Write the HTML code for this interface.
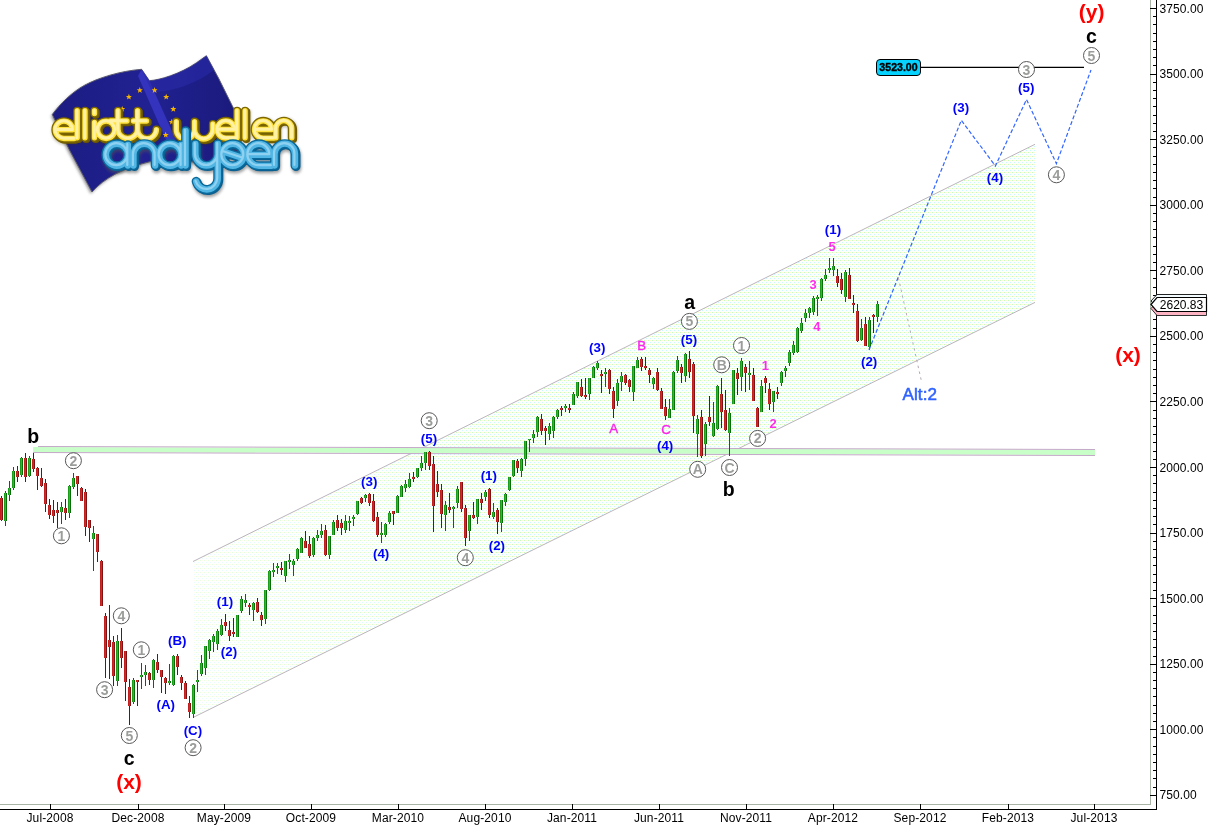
<!DOCTYPE html>
<html><head><meta charset="utf-8"><title>Chart</title>
<style>html,body{margin:0;padding:0;background:#fff;overflow:hidden}svg{display:block;will-change:transform}text{font-family:"Liberation Sans",sans-serif}.s{font-family:"Liberation Serif",serif}</style></head>
<body>
<svg width="1209" height="827" viewBox="0 0 1209 827">
<defs>
<pattern id="dz" width="4" height="4" patternUnits="userSpaceOnUse"><rect width="4" height="4" fill="#fdfffd"/><rect x="0" y="0" width="1" height="1" fill="#c0ffc0"/><rect x="2" y="2" width="1" height="1" fill="#c8f8ff"/><rect x="2" y="0" width="1" height="1" fill="#ffffd0"/></pattern>
<linearGradient id="wg" gradientUnits="userSpaceOnUse" x1="193" y1="0" x2="520" y2="0"><stop offset="0" stop-color="#fff" stop-opacity="0.6"/><stop offset="1" stop-color="#fff" stop-opacity="0"/></linearGradient>
</defs>
<rect width="1209" height="827" fill="#fff"/>
<g id="channel">
<polygon points="193,561.5 1035,144.3 1035,302.4 193,717.5" fill="url(#dz)"/>
<polygon points="193,561.5 520,399.5 520,556.3 193,717.5" fill="url(#wg)"/>
<line x1="193" y1="561.5" x2="1035" y2="144.3" stroke="#bdb4bd" stroke-width="1"/>
<line x1="193" y1="717.5" x2="1035" y2="302.4" stroke="#bdb4bd" stroke-width="1"/>
</g>
<g id="band">
<polygon points="33,447 1095,450 1095,455 33,452" fill="#c8ffc8"/>
<line x1="38" y1="446.5" x2="1095" y2="449.5" stroke="#c4a8c8" stroke-width="1"/>
<line x1="33" y1="452.5" x2="1095" y2="455.5" stroke="#c4a8c8" stroke-width="1"/>
</g>
<g id="candles" shape-rendering="crispEdges">
<rect x="1" y="496" width="1" height="25" fill="#7c0a0a"/><rect x="0" y="498" width="1" height="22" fill="#c41f1f"/><rect x="1" y="498" width="1" height="22" fill="#d22a2a"/><rect x="2" y="498" width="1" height="22" fill="#7e1212"/>
<rect x="5" y="491" width="1" height="35" fill="#056a05"/><rect x="4" y="493" width="1" height="28" fill="#1a9e1a"/><rect x="5" y="493" width="1" height="28" fill="#25c225"/><rect x="6" y="493" width="1" height="28" fill="#0a6e0a"/>
<rect x="9" y="481" width="1" height="20" fill="#056a05"/><rect x="8" y="488" width="1" height="7" fill="#1a9e1a"/><rect x="9" y="488" width="1" height="7" fill="#25c225"/><rect x="10" y="488" width="1" height="7" fill="#0a6e0a"/>
<rect x="13" y="467" width="1" height="23" fill="#056a05"/><rect x="12" y="471" width="1" height="17" fill="#1a9e1a"/><rect x="13" y="471" width="1" height="17" fill="#25c225"/><rect x="14" y="471" width="1" height="17" fill="#0a6e0a"/>
<rect x="17" y="466" width="1" height="16" fill="#7c0a0a"/><rect x="16" y="471" width="1" height="6" fill="#c41f1f"/><rect x="17" y="471" width="1" height="6" fill="#d22a2a"/><rect x="18" y="471" width="1" height="6" fill="#7e1212"/>
<rect x="21" y="457" width="1" height="20" fill="#056a05"/><rect x="20" y="458" width="1" height="17" fill="#1a9e1a"/><rect x="21" y="458" width="1" height="17" fill="#25c225"/><rect x="22" y="458" width="1" height="17" fill="#0a6e0a"/>
<rect x="25" y="453" width="1" height="29" fill="#7c0a0a"/><rect x="24" y="458" width="1" height="19" fill="#c41f1f"/><rect x="25" y="458" width="1" height="19" fill="#d22a2a"/><rect x="26" y="458" width="1" height="19" fill="#7e1212"/>
<rect x="29" y="456" width="1" height="21" fill="#056a05"/><rect x="28" y="458" width="1" height="18" fill="#1a9e1a"/><rect x="29" y="458" width="1" height="18" fill="#25c225"/><rect x="30" y="458" width="1" height="18" fill="#0a6e0a"/>
<rect x="33" y="453" width="1" height="19" fill="#7c0a0a"/><rect x="32" y="459" width="1" height="10" fill="#c41f1f"/><rect x="33" y="459" width="1" height="10" fill="#d22a2a"/><rect x="34" y="459" width="1" height="10" fill="#7e1212"/>
<rect x="37" y="467" width="1" height="23" fill="#7c0a0a"/><rect x="36" y="468" width="1" height="8" fill="#c41f1f"/><rect x="37" y="468" width="1" height="8" fill="#d22a2a"/><rect x="38" y="468" width="1" height="8" fill="#7e1212"/>
<rect x="41" y="468" width="1" height="19" fill="#7c0a0a"/><rect x="40" y="478" width="1" height="8" fill="#c41f1f"/><rect x="41" y="478" width="1" height="8" fill="#d22a2a"/><rect x="42" y="478" width="1" height="8" fill="#7e1212"/>
<rect x="45" y="479" width="1" height="33" fill="#7c0a0a"/><rect x="44" y="483" width="1" height="21" fill="#c41f1f"/><rect x="45" y="483" width="1" height="21" fill="#d22a2a"/><rect x="46" y="483" width="1" height="21" fill="#7e1212"/>
<rect x="49" y="499" width="1" height="20" fill="#7c0a0a"/><rect x="48" y="505" width="1" height="10" fill="#c41f1f"/><rect x="49" y="505" width="1" height="10" fill="#d22a2a"/><rect x="50" y="505" width="1" height="10" fill="#7e1212"/>
<rect x="53" y="500" width="1" height="23" fill="#7c0a0a"/><rect x="52" y="510" width="1" height="6" fill="#c41f1f"/><rect x="53" y="510" width="1" height="6" fill="#d22a2a"/><rect x="54" y="510" width="1" height="6" fill="#7e1212"/>
<rect x="57" y="502" width="1" height="26" fill="#7c0a0a"/><rect x="56" y="510" width="1" height="3" fill="#c41f1f"/><rect x="57" y="510" width="1" height="3" fill="#d22a2a"/><rect x="58" y="510" width="1" height="3" fill="#7e1212"/>
<rect x="61" y="502" width="1" height="22" fill="#056a05"/><rect x="60" y="507" width="1" height="5" fill="#1a9e1a"/><rect x="61" y="507" width="1" height="5" fill="#25c225"/><rect x="62" y="507" width="1" height="5" fill="#0a6e0a"/>
<rect x="65" y="499" width="1" height="21" fill="#7c0a0a"/><rect x="64" y="508" width="1" height="5" fill="#c41f1f"/><rect x="65" y="508" width="1" height="5" fill="#d22a2a"/><rect x="66" y="508" width="1" height="5" fill="#7e1212"/>
<rect x="69" y="485" width="1" height="33" fill="#056a05"/><rect x="68" y="486" width="1" height="27" fill="#1a9e1a"/><rect x="69" y="486" width="1" height="27" fill="#25c225"/><rect x="70" y="486" width="1" height="27" fill="#0a6e0a"/>
<rect x="73" y="473" width="1" height="16" fill="#056a05"/><rect x="72" y="478" width="1" height="9" fill="#1a9e1a"/><rect x="73" y="478" width="1" height="9" fill="#25c225"/><rect x="74" y="478" width="1" height="9" fill="#0a6e0a"/>
<rect x="77" y="476" width="1" height="20" fill="#7c0a0a"/><rect x="76" y="476" width="1" height="8" fill="#c41f1f"/><rect x="77" y="476" width="1" height="8" fill="#d22a2a"/><rect x="78" y="476" width="1" height="8" fill="#7e1212"/>
<rect x="81" y="487" width="1" height="14" fill="#7c0a0a"/><rect x="80" y="488" width="1" height="13" fill="#c41f1f"/><rect x="81" y="488" width="1" height="13" fill="#d22a2a"/><rect x="82" y="488" width="1" height="13" fill="#7e1212"/>
<rect x="85" y="489" width="1" height="47" fill="#7c0a0a"/><rect x="84" y="492" width="1" height="35" fill="#c41f1f"/><rect x="85" y="492" width="1" height="35" fill="#d22a2a"/><rect x="86" y="492" width="1" height="35" fill="#7e1212"/>
<rect x="89" y="520" width="1" height="22" fill="#7c0a0a"/><rect x="88" y="520" width="1" height="8" fill="#c41f1f"/><rect x="89" y="520" width="1" height="8" fill="#d22a2a"/><rect x="90" y="520" width="1" height="8" fill="#7e1212"/>
<rect x="93" y="526" width="1" height="45" fill="#056a05"/><rect x="92" y="533" width="1" height="6" fill="#1a9e1a"/><rect x="93" y="533" width="1" height="6" fill="#25c225"/><rect x="94" y="533" width="1" height="6" fill="#0a6e0a"/>
<rect x="97" y="534" width="1" height="28" fill="#7c0a0a"/><rect x="96" y="534" width="1" height="18" fill="#c41f1f"/><rect x="97" y="534" width="1" height="18" fill="#d22a2a"/><rect x="98" y="534" width="1" height="18" fill="#7e1212"/>
<rect x="101" y="560" width="1" height="46" fill="#7c0a0a"/><rect x="100" y="561" width="1" height="45" fill="#c41f1f"/><rect x="101" y="561" width="1" height="45" fill="#d22a2a"/><rect x="102" y="561" width="1" height="45" fill="#7e1212"/>
<rect x="105" y="613" width="1" height="65" fill="#7c0a0a"/><rect x="104" y="616" width="1" height="42" fill="#c41f1f"/><rect x="105" y="616" width="1" height="42" fill="#d22a2a"/><rect x="106" y="616" width="1" height="42" fill="#7e1212"/>
<rect x="109" y="605" width="1" height="74" fill="#7c0a0a"/><rect x="108" y="640" width="1" height="7" fill="#c41f1f"/><rect x="109" y="640" width="1" height="7" fill="#d22a2a"/><rect x="110" y="640" width="1" height="7" fill="#7e1212"/>
<rect x="113" y="636" width="1" height="50" fill="#7c0a0a"/><rect x="112" y="642" width="1" height="34" fill="#c41f1f"/><rect x="113" y="642" width="1" height="34" fill="#d22a2a"/><rect x="114" y="642" width="1" height="34" fill="#7e1212"/>
<rect x="117" y="635" width="1" height="51" fill="#056a05"/><rect x="116" y="641" width="1" height="40" fill="#1a9e1a"/><rect x="117" y="641" width="1" height="40" fill="#25c225"/><rect x="118" y="641" width="1" height="40" fill="#0a6e0a"/>
<rect x="121" y="628" width="1" height="40" fill="#7c0a0a"/><rect x="120" y="641" width="1" height="17" fill="#c41f1f"/><rect x="121" y="641" width="1" height="17" fill="#d22a2a"/><rect x="122" y="641" width="1" height="17" fill="#7e1212"/>
<rect x="125" y="651" width="1" height="50" fill="#7c0a0a"/><rect x="124" y="651" width="1" height="31" fill="#c41f1f"/><rect x="125" y="651" width="1" height="31" fill="#d22a2a"/><rect x="126" y="651" width="1" height="31" fill="#7e1212"/>
<rect x="129" y="679" width="1" height="46" fill="#7c0a0a"/><rect x="128" y="687" width="1" height="19" fill="#c41f1f"/><rect x="129" y="687" width="1" height="19" fill="#d22a2a"/><rect x="130" y="687" width="1" height="19" fill="#7e1212"/>
<rect x="133" y="678" width="1" height="26" fill="#056a05"/><rect x="132" y="680" width="1" height="22" fill="#1a9e1a"/><rect x="133" y="680" width="1" height="22" fill="#25c225"/><rect x="134" y="680" width="1" height="22" fill="#0a6e0a"/>
<rect x="137" y="680" width="1" height="26" fill="#7c0a0a"/><rect x="136" y="680" width="1" height="2" fill="#c41f1f"/><rect x="137" y="680" width="1" height="2" fill="#d22a2a"/><rect x="138" y="680" width="1" height="2" fill="#7e1212"/>
<rect x="141" y="663" width="1" height="26" fill="#056a05"/><rect x="140" y="675" width="1" height="2" fill="#1a9e1a"/><rect x="141" y="675" width="1" height="2" fill="#25c225"/><rect x="142" y="675" width="1" height="2" fill="#0a6e0a"/>
<rect x="145" y="665" width="1" height="21" fill="#056a05"/><rect x="144" y="672" width="1" height="3" fill="#1a9e1a"/><rect x="145" y="672" width="1" height="3" fill="#25c225"/><rect x="146" y="672" width="1" height="3" fill="#0a6e0a"/>
<rect x="149" y="672" width="1" height="13" fill="#7c0a0a"/><rect x="148" y="673" width="1" height="7" fill="#c41f1f"/><rect x="149" y="673" width="1" height="7" fill="#d22a2a"/><rect x="150" y="673" width="1" height="7" fill="#7e1212"/>
<rect x="153" y="659" width="1" height="29" fill="#056a05"/><rect x="152" y="660" width="1" height="20" fill="#1a9e1a"/><rect x="153" y="660" width="1" height="20" fill="#25c225"/><rect x="154" y="660" width="1" height="20" fill="#0a6e0a"/>
<rect x="157" y="654" width="1" height="19" fill="#7c0a0a"/><rect x="156" y="662" width="1" height="8" fill="#c41f1f"/><rect x="157" y="662" width="1" height="8" fill="#d22a2a"/><rect x="158" y="662" width="1" height="8" fill="#7e1212"/>
<rect x="161" y="670" width="1" height="23" fill="#7c0a0a"/><rect x="160" y="670" width="1" height="7" fill="#c41f1f"/><rect x="161" y="670" width="1" height="7" fill="#d22a2a"/><rect x="162" y="670" width="1" height="7" fill="#7e1212"/>
<rect x="165" y="677" width="1" height="17" fill="#7c0a0a"/><rect x="164" y="678" width="1" height="5" fill="#c41f1f"/><rect x="165" y="678" width="1" height="5" fill="#d22a2a"/><rect x="166" y="678" width="1" height="5" fill="#7e1212"/>
<rect x="169" y="664" width="1" height="21" fill="#056a05"/><rect x="168" y="681" width="1" height="2" fill="#1a9e1a"/><rect x="169" y="681" width="1" height="2" fill="#25c225"/><rect x="170" y="681" width="1" height="2" fill="#0a6e0a"/>
<rect x="173" y="655" width="1" height="31" fill="#056a05"/><rect x="172" y="656" width="1" height="29" fill="#1a9e1a"/><rect x="173" y="656" width="1" height="29" fill="#25c225"/><rect x="174" y="656" width="1" height="29" fill="#0a6e0a"/>
<rect x="177" y="654" width="1" height="21" fill="#7c0a0a"/><rect x="176" y="656" width="1" height="11" fill="#c41f1f"/><rect x="177" y="656" width="1" height="11" fill="#d22a2a"/><rect x="178" y="656" width="1" height="11" fill="#7e1212"/>
<rect x="181" y="675" width="1" height="15" fill="#7c0a0a"/><rect x="180" y="677" width="1" height="6" fill="#c41f1f"/><rect x="181" y="677" width="1" height="6" fill="#d22a2a"/><rect x="182" y="677" width="1" height="6" fill="#7e1212"/>
<rect x="185" y="681" width="1" height="18" fill="#7c0a0a"/><rect x="184" y="683" width="1" height="16" fill="#c41f1f"/><rect x="185" y="683" width="1" height="16" fill="#d22a2a"/><rect x="186" y="683" width="1" height="16" fill="#7e1212"/>
<rect x="189" y="696" width="1" height="22" fill="#7c0a0a"/><rect x="188" y="703" width="1" height="9" fill="#c41f1f"/><rect x="189" y="703" width="1" height="9" fill="#d22a2a"/><rect x="190" y="703" width="1" height="9" fill="#7e1212"/>
<rect x="193" y="684" width="1" height="34" fill="#056a05"/><rect x="192" y="685" width="1" height="29" fill="#1a9e1a"/><rect x="193" y="685" width="1" height="29" fill="#25c225"/><rect x="194" y="685" width="1" height="29" fill="#0a6e0a"/>
<rect x="197" y="670" width="1" height="22" fill="#056a05"/><rect x="196" y="680" width="1" height="2" fill="#1a9e1a"/><rect x="197" y="680" width="1" height="2" fill="#25c225"/><rect x="198" y="680" width="1" height="2" fill="#0a6e0a"/>
<rect x="201" y="655" width="1" height="21" fill="#056a05"/><rect x="200" y="663" width="1" height="11" fill="#1a9e1a"/><rect x="201" y="663" width="1" height="11" fill="#25c225"/><rect x="202" y="663" width="1" height="11" fill="#0a6e0a"/>
<rect x="205" y="646" width="1" height="29" fill="#056a05"/><rect x="204" y="646" width="1" height="22" fill="#1a9e1a"/><rect x="205" y="646" width="1" height="22" fill="#25c225"/><rect x="206" y="646" width="1" height="22" fill="#0a6e0a"/>
<rect x="209" y="639" width="1" height="20" fill="#056a05"/><rect x="208" y="640" width="1" height="11" fill="#1a9e1a"/><rect x="209" y="640" width="1" height="11" fill="#25c225"/><rect x="210" y="640" width="1" height="11" fill="#0a6e0a"/>
<rect x="213" y="634" width="1" height="18" fill="#056a05"/><rect x="212" y="636" width="1" height="6" fill="#1a9e1a"/><rect x="213" y="636" width="1" height="6" fill="#25c225"/><rect x="214" y="636" width="1" height="6" fill="#0a6e0a"/>
<rect x="217" y="629" width="1" height="21" fill="#056a05"/><rect x="216" y="631" width="1" height="13" fill="#1a9e1a"/><rect x="217" y="631" width="1" height="13" fill="#25c225"/><rect x="218" y="631" width="1" height="13" fill="#0a6e0a"/>
<rect x="221" y="619" width="1" height="17" fill="#056a05"/><rect x="220" y="625" width="1" height="10" fill="#1a9e1a"/><rect x="221" y="625" width="1" height="10" fill="#25c225"/><rect x="222" y="625" width="1" height="10" fill="#0a6e0a"/>
<rect x="225" y="614" width="1" height="17" fill="#7c0a0a"/><rect x="224" y="622" width="1" height="4" fill="#c41f1f"/><rect x="225" y="622" width="1" height="4" fill="#d22a2a"/><rect x="226" y="622" width="1" height="4" fill="#7e1212"/>
<rect x="229" y="621" width="1" height="20" fill="#7c0a0a"/><rect x="228" y="630" width="1" height="6" fill="#c41f1f"/><rect x="229" y="630" width="1" height="6" fill="#d22a2a"/><rect x="230" y="630" width="1" height="6" fill="#7e1212"/>
<rect x="233" y="618" width="1" height="19" fill="#7c0a0a"/><rect x="232" y="632" width="1" height="2" fill="#c41f1f"/><rect x="233" y="632" width="1" height="2" fill="#d22a2a"/><rect x="234" y="632" width="1" height="2" fill="#7e1212"/>
<rect x="237" y="615" width="1" height="22" fill="#056a05"/><rect x="236" y="615" width="1" height="22" fill="#1a9e1a"/><rect x="237" y="615" width="1" height="22" fill="#25c225"/><rect x="238" y="615" width="1" height="22" fill="#0a6e0a"/>
<rect x="241" y="596" width="1" height="17" fill="#056a05"/><rect x="240" y="599" width="1" height="12" fill="#1a9e1a"/><rect x="241" y="599" width="1" height="12" fill="#25c225"/><rect x="242" y="599" width="1" height="12" fill="#0a6e0a"/>
<rect x="245" y="594" width="1" height="13" fill="#056a05"/><rect x="244" y="600" width="1" height="3" fill="#1a9e1a"/><rect x="245" y="600" width="1" height="3" fill="#25c225"/><rect x="246" y="600" width="1" height="3" fill="#0a6e0a"/>
<rect x="249" y="603" width="1" height="12" fill="#7c0a0a"/><rect x="248" y="605" width="1" height="2" fill="#c41f1f"/><rect x="249" y="605" width="1" height="2" fill="#d22a2a"/><rect x="250" y="605" width="1" height="2" fill="#7e1212"/>
<rect x="253" y="602" width="1" height="19" fill="#056a05"/><rect x="252" y="603" width="1" height="7" fill="#1a9e1a"/><rect x="253" y="603" width="1" height="7" fill="#25c225"/><rect x="254" y="603" width="1" height="7" fill="#0a6e0a"/>
<rect x="257" y="598" width="1" height="15" fill="#7c0a0a"/><rect x="256" y="602" width="1" height="10" fill="#c41f1f"/><rect x="257" y="602" width="1" height="10" fill="#d22a2a"/><rect x="258" y="602" width="1" height="10" fill="#7e1212"/>
<rect x="261" y="612" width="1" height="14" fill="#7c0a0a"/><rect x="260" y="615" width="1" height="5" fill="#c41f1f"/><rect x="261" y="615" width="1" height="5" fill="#d22a2a"/><rect x="262" y="615" width="1" height="5" fill="#7e1212"/>
<rect x="265" y="590" width="1" height="34" fill="#056a05"/><rect x="264" y="590" width="1" height="29" fill="#1a9e1a"/><rect x="265" y="590" width="1" height="29" fill="#25c225"/><rect x="266" y="590" width="1" height="29" fill="#0a6e0a"/>
<rect x="269" y="570" width="1" height="21" fill="#056a05"/><rect x="268" y="571" width="1" height="19" fill="#1a9e1a"/><rect x="269" y="571" width="1" height="19" fill="#25c225"/><rect x="270" y="571" width="1" height="19" fill="#0a6e0a"/>
<rect x="273" y="563" width="1" height="14" fill="#056a05"/><rect x="272" y="570" width="1" height="2" fill="#1a9e1a"/><rect x="273" y="570" width="1" height="2" fill="#25c225"/><rect x="274" y="570" width="1" height="2" fill="#0a6e0a"/>
<rect x="277" y="563" width="1" height="11" fill="#056a05"/><rect x="276" y="566" width="1" height="2" fill="#1a9e1a"/><rect x="277" y="566" width="1" height="2" fill="#25c225"/><rect x="278" y="566" width="1" height="2" fill="#0a6e0a"/>
<rect x="281" y="562" width="1" height="13" fill="#7c0a0a"/><rect x="280" y="568" width="1" height="2" fill="#c41f1f"/><rect x="281" y="568" width="1" height="2" fill="#d22a2a"/><rect x="282" y="568" width="1" height="2" fill="#7e1212"/>
<rect x="285" y="561" width="1" height="21" fill="#056a05"/><rect x="284" y="561" width="1" height="15" fill="#1a9e1a"/><rect x="285" y="561" width="1" height="15" fill="#25c225"/><rect x="286" y="561" width="1" height="15" fill="#0a6e0a"/>
<rect x="289" y="554" width="1" height="15" fill="#056a05"/><rect x="288" y="560" width="1" height="2" fill="#1a9e1a"/><rect x="289" y="560" width="1" height="2" fill="#25c225"/><rect x="290" y="560" width="1" height="2" fill="#0a6e0a"/>
<rect x="293" y="559" width="1" height="17" fill="#056a05"/><rect x="292" y="561" width="1" height="4" fill="#1a9e1a"/><rect x="293" y="561" width="1" height="4" fill="#25c225"/><rect x="294" y="561" width="1" height="4" fill="#0a6e0a"/>
<rect x="297" y="548" width="1" height="13" fill="#056a05"/><rect x="296" y="549" width="1" height="10" fill="#1a9e1a"/><rect x="297" y="549" width="1" height="10" fill="#25c225"/><rect x="298" y="549" width="1" height="10" fill="#0a6e0a"/>
<rect x="301" y="537" width="1" height="16" fill="#056a05"/><rect x="300" y="538" width="1" height="15" fill="#1a9e1a"/><rect x="301" y="538" width="1" height="15" fill="#25c225"/><rect x="302" y="538" width="1" height="15" fill="#0a6e0a"/>
<rect x="305" y="531" width="1" height="17" fill="#7c0a0a"/><rect x="304" y="541" width="1" height="7" fill="#c41f1f"/><rect x="305" y="541" width="1" height="7" fill="#d22a2a"/><rect x="306" y="541" width="1" height="7" fill="#7e1212"/>
<rect x="309" y="536" width="1" height="22" fill="#7c0a0a"/><rect x="308" y="544" width="1" height="12" fill="#c41f1f"/><rect x="309" y="544" width="1" height="12" fill="#d22a2a"/><rect x="310" y="544" width="1" height="12" fill="#7e1212"/>
<rect x="313" y="537" width="1" height="20" fill="#056a05"/><rect x="312" y="538" width="1" height="17" fill="#1a9e1a"/><rect x="313" y="538" width="1" height="17" fill="#25c225"/><rect x="314" y="538" width="1" height="17" fill="#0a6e0a"/>
<rect x="317" y="530" width="1" height="11" fill="#056a05"/><rect x="316" y="535" width="1" height="3" fill="#1a9e1a"/><rect x="317" y="535" width="1" height="3" fill="#25c225"/><rect x="318" y="535" width="1" height="3" fill="#0a6e0a"/>
<rect x="321" y="524" width="1" height="14" fill="#056a05"/><rect x="320" y="531" width="1" height="4" fill="#1a9e1a"/><rect x="321" y="531" width="1" height="4" fill="#25c225"/><rect x="322" y="531" width="1" height="4" fill="#0a6e0a"/>
<rect x="325" y="525" width="1" height="31" fill="#7c0a0a"/><rect x="324" y="530" width="1" height="25" fill="#c41f1f"/><rect x="325" y="530" width="1" height="25" fill="#d22a2a"/><rect x="326" y="530" width="1" height="25" fill="#7e1212"/>
<rect x="329" y="536" width="1" height="23" fill="#056a05"/><rect x="328" y="536" width="1" height="19" fill="#1a9e1a"/><rect x="329" y="536" width="1" height="19" fill="#25c225"/><rect x="330" y="536" width="1" height="19" fill="#0a6e0a"/>
<rect x="333" y="520" width="1" height="15" fill="#056a05"/><rect x="332" y="522" width="1" height="13" fill="#1a9e1a"/><rect x="333" y="522" width="1" height="13" fill="#25c225"/><rect x="334" y="522" width="1" height="13" fill="#0a6e0a"/>
<rect x="337" y="515" width="1" height="16" fill="#7c0a0a"/><rect x="336" y="520" width="1" height="8" fill="#c41f1f"/><rect x="337" y="520" width="1" height="8" fill="#d22a2a"/><rect x="338" y="520" width="1" height="8" fill="#7e1212"/>
<rect x="341" y="519" width="1" height="16" fill="#7c0a0a"/><rect x="340" y="523" width="1" height="5" fill="#c41f1f"/><rect x="341" y="523" width="1" height="5" fill="#d22a2a"/><rect x="342" y="523" width="1" height="5" fill="#7e1212"/>
<rect x="345" y="515" width="1" height="18" fill="#056a05"/><rect x="344" y="521" width="1" height="9" fill="#1a9e1a"/><rect x="345" y="521" width="1" height="9" fill="#25c225"/><rect x="346" y="521" width="1" height="9" fill="#0a6e0a"/>
<rect x="349" y="516" width="1" height="15" fill="#056a05"/><rect x="348" y="521" width="1" height="2" fill="#1a9e1a"/><rect x="349" y="521" width="1" height="2" fill="#25c225"/><rect x="350" y="521" width="1" height="2" fill="#0a6e0a"/>
<rect x="353" y="515" width="1" height="11" fill="#056a05"/><rect x="352" y="517" width="1" height="2" fill="#1a9e1a"/><rect x="353" y="517" width="1" height="2" fill="#25c225"/><rect x="354" y="517" width="1" height="2" fill="#0a6e0a"/>
<rect x="357" y="501" width="1" height="14" fill="#056a05"/><rect x="356" y="501" width="1" height="13" fill="#1a9e1a"/><rect x="357" y="501" width="1" height="13" fill="#25c225"/><rect x="358" y="501" width="1" height="13" fill="#0a6e0a"/>
<rect x="361" y="497" width="1" height="7" fill="#7c0a0a"/><rect x="360" y="498" width="1" height="5" fill="#c41f1f"/><rect x="361" y="498" width="1" height="5" fill="#d22a2a"/><rect x="362" y="498" width="1" height="5" fill="#7e1212"/>
<rect x="365" y="494" width="1" height="8" fill="#056a05"/><rect x="364" y="495" width="1" height="3" fill="#1a9e1a"/><rect x="365" y="495" width="1" height="3" fill="#25c225"/><rect x="366" y="495" width="1" height="3" fill="#0a6e0a"/>
<rect x="369" y="493" width="1" height="13" fill="#7c0a0a"/><rect x="368" y="494" width="1" height="9" fill="#c41f1f"/><rect x="369" y="494" width="1" height="9" fill="#d22a2a"/><rect x="370" y="494" width="1" height="9" fill="#7e1212"/>
<rect x="373" y="494" width="1" height="28" fill="#7c0a0a"/><rect x="372" y="501" width="1" height="20" fill="#c41f1f"/><rect x="373" y="501" width="1" height="20" fill="#d22a2a"/><rect x="374" y="501" width="1" height="20" fill="#7e1212"/>
<rect x="377" y="512" width="1" height="25" fill="#7c0a0a"/><rect x="376" y="517" width="1" height="18" fill="#c41f1f"/><rect x="377" y="517" width="1" height="18" fill="#d22a2a"/><rect x="378" y="517" width="1" height="18" fill="#7e1212"/>
<rect x="381" y="522" width="1" height="21" fill="#056a05"/><rect x="380" y="533" width="1" height="2" fill="#1a9e1a"/><rect x="381" y="533" width="1" height="2" fill="#25c225"/><rect x="382" y="533" width="1" height="2" fill="#0a6e0a"/>
<rect x="385" y="523" width="1" height="14" fill="#056a05"/><rect x="384" y="524" width="1" height="11" fill="#1a9e1a"/><rect x="385" y="524" width="1" height="11" fill="#25c225"/><rect x="386" y="524" width="1" height="11" fill="#0a6e0a"/>
<rect x="389" y="511" width="1" height="13" fill="#056a05"/><rect x="388" y="513" width="1" height="9" fill="#1a9e1a"/><rect x="389" y="513" width="1" height="9" fill="#25c225"/><rect x="390" y="513" width="1" height="9" fill="#0a6e0a"/>
<rect x="393" y="511" width="1" height="14" fill="#7c0a0a"/><rect x="392" y="511" width="1" height="3" fill="#c41f1f"/><rect x="393" y="511" width="1" height="3" fill="#d22a2a"/><rect x="394" y="511" width="1" height="3" fill="#7e1212"/>
<rect x="397" y="495" width="1" height="18" fill="#056a05"/><rect x="396" y="496" width="1" height="17" fill="#1a9e1a"/><rect x="397" y="496" width="1" height="17" fill="#25c225"/><rect x="398" y="496" width="1" height="17" fill="#0a6e0a"/>
<rect x="401" y="485" width="1" height="12" fill="#056a05"/><rect x="400" y="486" width="1" height="11" fill="#1a9e1a"/><rect x="401" y="486" width="1" height="11" fill="#25c225"/><rect x="402" y="486" width="1" height="11" fill="#0a6e0a"/>
<rect x="405" y="480" width="1" height="12" fill="#056a05"/><rect x="404" y="484" width="1" height="4" fill="#1a9e1a"/><rect x="405" y="484" width="1" height="4" fill="#25c225"/><rect x="406" y="484" width="1" height="4" fill="#0a6e0a"/>
<rect x="409" y="473" width="1" height="15" fill="#056a05"/><rect x="408" y="479" width="1" height="8" fill="#1a9e1a"/><rect x="409" y="479" width="1" height="8" fill="#25c225"/><rect x="410" y="479" width="1" height="8" fill="#0a6e0a"/>
<rect x="413" y="472" width="1" height="10" fill="#7c0a0a"/><rect x="412" y="477" width="1" height="2" fill="#c41f1f"/><rect x="413" y="477" width="1" height="2" fill="#d22a2a"/><rect x="414" y="477" width="1" height="2" fill="#7e1212"/>
<rect x="417" y="468" width="1" height="10" fill="#056a05"/><rect x="416" y="468" width="1" height="9" fill="#1a9e1a"/><rect x="417" y="468" width="1" height="9" fill="#25c225"/><rect x="418" y="468" width="1" height="9" fill="#0a6e0a"/>
<rect x="421" y="456" width="1" height="15" fill="#056a05"/><rect x="420" y="463" width="1" height="5" fill="#1a9e1a"/><rect x="421" y="463" width="1" height="5" fill="#25c225"/><rect x="422" y="463" width="1" height="5" fill="#0a6e0a"/>
<rect x="425" y="452" width="1" height="18" fill="#056a05"/><rect x="424" y="452" width="1" height="11" fill="#1a9e1a"/><rect x="425" y="452" width="1" height="11" fill="#25c225"/><rect x="426" y="452" width="1" height="11" fill="#0a6e0a"/>
<rect x="429" y="451" width="1" height="19" fill="#7c0a0a"/><rect x="428" y="452" width="1" height="14" fill="#c41f1f"/><rect x="429" y="452" width="1" height="14" fill="#d22a2a"/><rect x="430" y="452" width="1" height="14" fill="#7e1212"/>
<rect x="433" y="456" width="1" height="76" fill="#7c0a0a"/><rect x="432" y="464" width="1" height="42" fill="#c41f1f"/><rect x="433" y="464" width="1" height="42" fill="#d22a2a"/><rect x="434" y="464" width="1" height="42" fill="#7e1212"/>
<rect x="437" y="471" width="1" height="26" fill="#7c0a0a"/><rect x="436" y="484" width="1" height="8" fill="#c41f1f"/><rect x="437" y="484" width="1" height="8" fill="#d22a2a"/><rect x="438" y="484" width="1" height="8" fill="#7e1212"/>
<rect x="441" y="484" width="1" height="44" fill="#7c0a0a"/><rect x="440" y="490" width="1" height="24" fill="#c41f1f"/><rect x="441" y="490" width="1" height="24" fill="#d22a2a"/><rect x="442" y="490" width="1" height="24" fill="#7e1212"/>
<rect x="445" y="501" width="1" height="30" fill="#056a05"/><rect x="444" y="505" width="1" height="10" fill="#1a9e1a"/><rect x="445" y="505" width="1" height="10" fill="#25c225"/><rect x="446" y="505" width="1" height="10" fill="#0a6e0a"/>
<rect x="449" y="493" width="1" height="20" fill="#7c0a0a"/><rect x="448" y="507" width="1" height="3" fill="#c41f1f"/><rect x="449" y="507" width="1" height="3" fill="#d22a2a"/><rect x="450" y="507" width="1" height="3" fill="#7e1212"/>
<rect x="453" y="506" width="1" height="22" fill="#056a05"/><rect x="452" y="507" width="1" height="2" fill="#1a9e1a"/><rect x="453" y="507" width="1" height="2" fill="#25c225"/><rect x="454" y="507" width="1" height="2" fill="#0a6e0a"/>
<rect x="457" y="486" width="1" height="22" fill="#056a05"/><rect x="456" y="489" width="1" height="14" fill="#1a9e1a"/><rect x="457" y="489" width="1" height="14" fill="#25c225"/><rect x="458" y="489" width="1" height="14" fill="#0a6e0a"/>
<rect x="461" y="482" width="1" height="30" fill="#7c0a0a"/><rect x="460" y="482" width="1" height="27" fill="#c41f1f"/><rect x="461" y="482" width="1" height="27" fill="#d22a2a"/><rect x="462" y="482" width="1" height="27" fill="#7e1212"/>
<rect x="465" y="505" width="1" height="41" fill="#7c0a0a"/><rect x="464" y="508" width="1" height="30" fill="#c41f1f"/><rect x="465" y="508" width="1" height="30" fill="#d22a2a"/><rect x="466" y="508" width="1" height="30" fill="#7e1212"/>
<rect x="469" y="515" width="1" height="26" fill="#056a05"/><rect x="468" y="515" width="1" height="16" fill="#1a9e1a"/><rect x="469" y="515" width="1" height="16" fill="#25c225"/><rect x="470" y="515" width="1" height="16" fill="#0a6e0a"/>
<rect x="473" y="502" width="1" height="17" fill="#7c0a0a"/><rect x="472" y="515" width="1" height="3" fill="#c41f1f"/><rect x="473" y="515" width="1" height="3" fill="#d22a2a"/><rect x="474" y="515" width="1" height="3" fill="#7e1212"/>
<rect x="477" y="499" width="1" height="25" fill="#056a05"/><rect x="476" y="499" width="1" height="18" fill="#1a9e1a"/><rect x="477" y="499" width="1" height="18" fill="#25c225"/><rect x="478" y="499" width="1" height="18" fill="#0a6e0a"/>
<rect x="481" y="493" width="1" height="17" fill="#7c0a0a"/><rect x="480" y="499" width="1" height="4" fill="#c41f1f"/><rect x="481" y="499" width="1" height="4" fill="#d22a2a"/><rect x="482" y="499" width="1" height="4" fill="#7e1212"/>
<rect x="485" y="490" width="1" height="11" fill="#056a05"/><rect x="484" y="492" width="1" height="5" fill="#1a9e1a"/><rect x="485" y="492" width="1" height="5" fill="#25c225"/><rect x="486" y="492" width="1" height="5" fill="#0a6e0a"/>
<rect x="489" y="488" width="1" height="30" fill="#7c0a0a"/><rect x="488" y="489" width="1" height="26" fill="#c41f1f"/><rect x="489" y="489" width="1" height="26" fill="#d22a2a"/><rect x="490" y="489" width="1" height="26" fill="#7e1212"/>
<rect x="493" y="503" width="1" height="16" fill="#056a05"/><rect x="492" y="512" width="1" height="5" fill="#1a9e1a"/><rect x="493" y="512" width="1" height="5" fill="#25c225"/><rect x="494" y="512" width="1" height="5" fill="#0a6e0a"/>
<rect x="497" y="508" width="1" height="26" fill="#7c0a0a"/><rect x="496" y="510" width="1" height="12" fill="#c41f1f"/><rect x="497" y="510" width="1" height="12" fill="#d22a2a"/><rect x="498" y="510" width="1" height="12" fill="#7e1212"/>
<rect x="501" y="500" width="1" height="32" fill="#056a05"/><rect x="500" y="500" width="1" height="23" fill="#1a9e1a"/><rect x="501" y="500" width="1" height="23" fill="#25c225"/><rect x="502" y="500" width="1" height="23" fill="#0a6e0a"/>
<rect x="505" y="493" width="1" height="13" fill="#056a05"/><rect x="504" y="494" width="1" height="8" fill="#1a9e1a"/><rect x="505" y="494" width="1" height="8" fill="#25c225"/><rect x="506" y="494" width="1" height="8" fill="#0a6e0a"/>
<rect x="509" y="477" width="1" height="14" fill="#056a05"/><rect x="508" y="477" width="1" height="13" fill="#1a9e1a"/><rect x="509" y="477" width="1" height="13" fill="#25c225"/><rect x="510" y="477" width="1" height="13" fill="#0a6e0a"/>
<rect x="513" y="460" width="1" height="17" fill="#056a05"/><rect x="512" y="460" width="1" height="16" fill="#1a9e1a"/><rect x="513" y="460" width="1" height="16" fill="#25c225"/><rect x="514" y="460" width="1" height="16" fill="#0a6e0a"/>
<rect x="517" y="459" width="1" height="14" fill="#7c0a0a"/><rect x="516" y="461" width="1" height="7" fill="#c41f1f"/><rect x="517" y="461" width="1" height="7" fill="#d22a2a"/><rect x="518" y="461" width="1" height="7" fill="#7e1212"/>
<rect x="521" y="458" width="1" height="19" fill="#056a05"/><rect x="520" y="459" width="1" height="12" fill="#1a9e1a"/><rect x="521" y="459" width="1" height="12" fill="#25c225"/><rect x="522" y="459" width="1" height="12" fill="#0a6e0a"/>
<rect x="525" y="441" width="1" height="25" fill="#056a05"/><rect x="524" y="441" width="1" height="18" fill="#1a9e1a"/><rect x="525" y="441" width="1" height="18" fill="#25c225"/><rect x="526" y="441" width="1" height="18" fill="#0a6e0a"/>
<rect x="529" y="439" width="1" height="13" fill="#056a05"/><rect x="528" y="439" width="1" height="1" fill="#1a9e1a"/><rect x="529" y="439" width="1" height="1" fill="#25c225"/><rect x="530" y="439" width="1" height="1" fill="#0a6e0a"/>
<rect x="533" y="430" width="1" height="13" fill="#056a05"/><rect x="532" y="434" width="1" height="4" fill="#1a9e1a"/><rect x="533" y="434" width="1" height="4" fill="#25c225"/><rect x="534" y="434" width="1" height="4" fill="#0a6e0a"/>
<rect x="537" y="416" width="1" height="21" fill="#056a05"/><rect x="536" y="417" width="1" height="15" fill="#1a9e1a"/><rect x="537" y="417" width="1" height="15" fill="#25c225"/><rect x="538" y="417" width="1" height="15" fill="#0a6e0a"/>
<rect x="541" y="414" width="1" height="21" fill="#7c0a0a"/><rect x="540" y="419" width="1" height="12" fill="#c41f1f"/><rect x="541" y="419" width="1" height="12" fill="#d22a2a"/><rect x="542" y="419" width="1" height="12" fill="#7e1212"/>
<rect x="545" y="426" width="1" height="19" fill="#7c0a0a"/><rect x="544" y="428" width="1" height="3" fill="#c41f1f"/><rect x="545" y="428" width="1" height="3" fill="#d22a2a"/><rect x="546" y="428" width="1" height="3" fill="#7e1212"/>
<rect x="549" y="423" width="1" height="17" fill="#056a05"/><rect x="548" y="426" width="1" height="8" fill="#1a9e1a"/><rect x="549" y="426" width="1" height="8" fill="#25c225"/><rect x="550" y="426" width="1" height="8" fill="#0a6e0a"/>
<rect x="553" y="416" width="1" height="22" fill="#056a05"/><rect x="552" y="417" width="1" height="14" fill="#1a9e1a"/><rect x="553" y="417" width="1" height="14" fill="#25c225"/><rect x="554" y="417" width="1" height="14" fill="#0a6e0a"/>
<rect x="557" y="409" width="1" height="10" fill="#056a05"/><rect x="556" y="410" width="1" height="7" fill="#1a9e1a"/><rect x="557" y="410" width="1" height="7" fill="#25c225"/><rect x="558" y="410" width="1" height="7" fill="#0a6e0a"/>
<rect x="561" y="406" width="1" height="10" fill="#7c0a0a"/><rect x="560" y="408" width="1" height="2" fill="#c41f1f"/><rect x="561" y="408" width="1" height="2" fill="#d22a2a"/><rect x="562" y="408" width="1" height="2" fill="#7e1212"/>
<rect x="565" y="404" width="1" height="8" fill="#056a05"/><rect x="564" y="406" width="1" height="2" fill="#1a9e1a"/><rect x="565" y="406" width="1" height="2" fill="#25c225"/><rect x="566" y="406" width="1" height="2" fill="#0a6e0a"/>
<rect x="569" y="404" width="1" height="9" fill="#7c0a0a"/><rect x="568" y="408" width="1" height="2" fill="#c41f1f"/><rect x="569" y="408" width="1" height="2" fill="#d22a2a"/><rect x="570" y="408" width="1" height="2" fill="#7e1212"/>
<rect x="573" y="392" width="1" height="13" fill="#056a05"/><rect x="572" y="394" width="1" height="11" fill="#1a9e1a"/><rect x="573" y="394" width="1" height="11" fill="#25c225"/><rect x="574" y="394" width="1" height="11" fill="#0a6e0a"/>
<rect x="577" y="382" width="1" height="16" fill="#056a05"/><rect x="576" y="382" width="1" height="14" fill="#1a9e1a"/><rect x="577" y="382" width="1" height="14" fill="#25c225"/><rect x="578" y="382" width="1" height="14" fill="#0a6e0a"/>
<rect x="581" y="379" width="1" height="18" fill="#7c0a0a"/><rect x="580" y="387" width="1" height="9" fill="#c41f1f"/><rect x="581" y="387" width="1" height="9" fill="#d22a2a"/><rect x="582" y="387" width="1" height="9" fill="#7e1212"/>
<rect x="585" y="378" width="1" height="21" fill="#7c0a0a"/><rect x="584" y="395" width="1" height="2" fill="#c41f1f"/><rect x="585" y="395" width="1" height="2" fill="#d22a2a"/><rect x="586" y="395" width="1" height="2" fill="#7e1212"/>
<rect x="589" y="378" width="1" height="22" fill="#056a05"/><rect x="588" y="378" width="1" height="16" fill="#1a9e1a"/><rect x="589" y="378" width="1" height="16" fill="#25c225"/><rect x="590" y="378" width="1" height="16" fill="#0a6e0a"/>
<rect x="593" y="366" width="1" height="12" fill="#056a05"/><rect x="592" y="367" width="1" height="11" fill="#1a9e1a"/><rect x="593" y="367" width="1" height="11" fill="#25c225"/><rect x="594" y="367" width="1" height="11" fill="#0a6e0a"/>
<rect x="597" y="361" width="1" height="9" fill="#056a05"/><rect x="596" y="363" width="1" height="5" fill="#1a9e1a"/><rect x="597" y="363" width="1" height="5" fill="#25c225"/><rect x="598" y="363" width="1" height="5" fill="#0a6e0a"/>
<rect x="601" y="370" width="1" height="23" fill="#7c0a0a"/><rect x="600" y="374" width="1" height="2" fill="#c41f1f"/><rect x="601" y="374" width="1" height="2" fill="#d22a2a"/><rect x="602" y="374" width="1" height="2" fill="#7e1212"/>
<rect x="605" y="368" width="1" height="19" fill="#056a05"/><rect x="604" y="372" width="1" height="2" fill="#1a9e1a"/><rect x="605" y="372" width="1" height="2" fill="#25c225"/><rect x="606" y="372" width="1" height="2" fill="#0a6e0a"/>
<rect x="609" y="369" width="1" height="25" fill="#7c0a0a"/><rect x="608" y="370" width="1" height="19" fill="#c41f1f"/><rect x="609" y="370" width="1" height="19" fill="#d22a2a"/><rect x="610" y="370" width="1" height="19" fill="#7e1212"/>
<rect x="613" y="387" width="1" height="31" fill="#7c0a0a"/><rect x="612" y="391" width="1" height="18" fill="#c41f1f"/><rect x="613" y="391" width="1" height="18" fill="#d22a2a"/><rect x="614" y="391" width="1" height="18" fill="#7e1212"/>
<rect x="617" y="379" width="1" height="27" fill="#056a05"/><rect x="616" y="383" width="1" height="18" fill="#1a9e1a"/><rect x="617" y="383" width="1" height="18" fill="#25c225"/><rect x="618" y="383" width="1" height="18" fill="#0a6e0a"/>
<rect x="621" y="372" width="1" height="19" fill="#056a05"/><rect x="620" y="376" width="1" height="6" fill="#1a9e1a"/><rect x="621" y="376" width="1" height="6" fill="#25c225"/><rect x="622" y="376" width="1" height="6" fill="#0a6e0a"/>
<rect x="625" y="374" width="1" height="11" fill="#7c0a0a"/><rect x="624" y="375" width="1" height="8" fill="#c41f1f"/><rect x="625" y="375" width="1" height="8" fill="#d22a2a"/><rect x="626" y="375" width="1" height="8" fill="#7e1212"/>
<rect x="629" y="379" width="1" height="13" fill="#7c0a0a"/><rect x="628" y="380" width="1" height="7" fill="#c41f1f"/><rect x="629" y="380" width="1" height="7" fill="#d22a2a"/><rect x="630" y="380" width="1" height="7" fill="#7e1212"/>
<rect x="633" y="366" width="1" height="35" fill="#056a05"/><rect x="632" y="366" width="1" height="26" fill="#1a9e1a"/><rect x="633" y="366" width="1" height="26" fill="#25c225"/><rect x="634" y="366" width="1" height="26" fill="#0a6e0a"/>
<rect x="637" y="357" width="1" height="11" fill="#056a05"/><rect x="636" y="360" width="1" height="8" fill="#1a9e1a"/><rect x="637" y="360" width="1" height="8" fill="#25c225"/><rect x="638" y="360" width="1" height="8" fill="#0a6e0a"/>
<rect x="641" y="357" width="1" height="14" fill="#7c0a0a"/><rect x="640" y="359" width="1" height="8" fill="#c41f1f"/><rect x="641" y="359" width="1" height="8" fill="#d22a2a"/><rect x="642" y="359" width="1" height="8" fill="#7e1212"/>
<rect x="645" y="357" width="1" height="13" fill="#7c0a0a"/><rect x="644" y="366" width="1" height="2" fill="#c41f1f"/><rect x="645" y="366" width="1" height="2" fill="#d22a2a"/><rect x="646" y="366" width="1" height="2" fill="#7e1212"/>
<rect x="649" y="368" width="1" height="15" fill="#7c0a0a"/><rect x="648" y="370" width="1" height="5" fill="#c41f1f"/><rect x="649" y="370" width="1" height="5" fill="#d22a2a"/><rect x="650" y="370" width="1" height="5" fill="#7e1212"/>
<rect x="653" y="377" width="1" height="12" fill="#056a05"/><rect x="652" y="378" width="1" height="6" fill="#1a9e1a"/><rect x="653" y="378" width="1" height="6" fill="#25c225"/><rect x="654" y="378" width="1" height="6" fill="#0a6e0a"/>
<rect x="657" y="368" width="1" height="23" fill="#7c0a0a"/><rect x="656" y="372" width="1" height="18" fill="#c41f1f"/><rect x="657" y="372" width="1" height="18" fill="#d22a2a"/><rect x="658" y="372" width="1" height="18" fill="#7e1212"/>
<rect x="661" y="388" width="1" height="21" fill="#7c0a0a"/><rect x="660" y="391" width="1" height="18" fill="#c41f1f"/><rect x="661" y="391" width="1" height="18" fill="#d22a2a"/><rect x="662" y="391" width="1" height="18" fill="#7e1212"/>
<rect x="665" y="399" width="1" height="21" fill="#7c0a0a"/><rect x="664" y="407" width="1" height="9" fill="#c41f1f"/><rect x="665" y="407" width="1" height="9" fill="#d22a2a"/><rect x="666" y="407" width="1" height="9" fill="#7e1212"/>
<rect x="669" y="399" width="1" height="19" fill="#056a05"/><rect x="668" y="409" width="1" height="9" fill="#1a9e1a"/><rect x="669" y="409" width="1" height="9" fill="#25c225"/><rect x="670" y="409" width="1" height="9" fill="#0a6e0a"/>
<rect x="673" y="371" width="1" height="39" fill="#056a05"/><rect x="672" y="372" width="1" height="38" fill="#1a9e1a"/><rect x="673" y="372" width="1" height="38" fill="#25c225"/><rect x="674" y="372" width="1" height="38" fill="#0a6e0a"/>
<rect x="677" y="356" width="1" height="17" fill="#056a05"/><rect x="676" y="360" width="1" height="11" fill="#1a9e1a"/><rect x="677" y="360" width="1" height="11" fill="#25c225"/><rect x="678" y="360" width="1" height="11" fill="#0a6e0a"/>
<rect x="681" y="364" width="1" height="19" fill="#7c0a0a"/><rect x="680" y="367" width="1" height="6" fill="#c41f1f"/><rect x="681" y="367" width="1" height="6" fill="#d22a2a"/><rect x="682" y="367" width="1" height="6" fill="#7e1212"/>
<rect x="685" y="353" width="1" height="29" fill="#056a05"/><rect x="684" y="354" width="1" height="22" fill="#1a9e1a"/><rect x="685" y="354" width="1" height="22" fill="#25c225"/><rect x="686" y="354" width="1" height="22" fill="#0a6e0a"/>
<rect x="689" y="351" width="1" height="27" fill="#7c0a0a"/><rect x="688" y="359" width="1" height="13" fill="#c41f1f"/><rect x="689" y="359" width="1" height="13" fill="#d22a2a"/><rect x="690" y="359" width="1" height="13" fill="#7e1212"/>
<rect x="693" y="362" width="1" height="71" fill="#7c0a0a"/><rect x="692" y="364" width="1" height="52" fill="#c41f1f"/><rect x="693" y="364" width="1" height="52" fill="#d22a2a"/><rect x="694" y="364" width="1" height="52" fill="#7e1212"/>
<rect x="697" y="415" width="1" height="42" fill="#056a05"/><rect x="696" y="419" width="1" height="15" fill="#1a9e1a"/><rect x="697" y="419" width="1" height="15" fill="#25c225"/><rect x="698" y="419" width="1" height="15" fill="#0a6e0a"/>
<rect x="701" y="410" width="1" height="48" fill="#7c0a0a"/><rect x="700" y="417" width="1" height="39" fill="#c41f1f"/><rect x="701" y="417" width="1" height="39" fill="#d22a2a"/><rect x="702" y="417" width="1" height="39" fill="#7e1212"/>
<rect x="705" y="422" width="1" height="34" fill="#056a05"/><rect x="704" y="424" width="1" height="20" fill="#1a9e1a"/><rect x="705" y="424" width="1" height="20" fill="#25c225"/><rect x="706" y="424" width="1" height="20" fill="#0a6e0a"/>
<rect x="709" y="396" width="1" height="30" fill="#7c0a0a"/><rect x="708" y="417" width="1" height="5" fill="#c41f1f"/><rect x="709" y="417" width="1" height="5" fill="#d22a2a"/><rect x="710" y="417" width="1" height="5" fill="#7e1212"/>
<rect x="713" y="402" width="1" height="35" fill="#056a05"/><rect x="712" y="423" width="1" height="13" fill="#1a9e1a"/><rect x="713" y="423" width="1" height="13" fill="#25c225"/><rect x="714" y="423" width="1" height="13" fill="#0a6e0a"/>
<rect x="717" y="385" width="1" height="45" fill="#056a05"/><rect x="716" y="386" width="1" height="43" fill="#1a9e1a"/><rect x="717" y="386" width="1" height="43" fill="#25c225"/><rect x="718" y="386" width="1" height="43" fill="#0a6e0a"/>
<rect x="721" y="378" width="1" height="50" fill="#7c0a0a"/><rect x="720" y="394" width="1" height="18" fill="#c41f1f"/><rect x="721" y="394" width="1" height="18" fill="#d22a2a"/><rect x="722" y="394" width="1" height="18" fill="#7e1212"/>
<rect x="725" y="390" width="1" height="41" fill="#7c0a0a"/><rect x="724" y="410" width="1" height="20" fill="#c41f1f"/><rect x="725" y="410" width="1" height="20" fill="#d22a2a"/><rect x="726" y="410" width="1" height="20" fill="#7e1212"/>
<rect x="729" y="408" width="1" height="48" fill="#056a05"/><rect x="728" y="413" width="1" height="20" fill="#1a9e1a"/><rect x="729" y="413" width="1" height="20" fill="#25c225"/><rect x="730" y="413" width="1" height="20" fill="#0a6e0a"/>
<rect x="733" y="370" width="1" height="34" fill="#056a05"/><rect x="732" y="370" width="1" height="34" fill="#1a9e1a"/><rect x="733" y="370" width="1" height="34" fill="#25c225"/><rect x="734" y="370" width="1" height="34" fill="#0a6e0a"/>
<rect x="737" y="368" width="1" height="27" fill="#7c0a0a"/><rect x="736" y="373" width="1" height="6" fill="#c41f1f"/><rect x="737" y="373" width="1" height="6" fill="#d22a2a"/><rect x="738" y="373" width="1" height="6" fill="#7e1212"/>
<rect x="741" y="358" width="1" height="33" fill="#056a05"/><rect x="740" y="361" width="1" height="16" fill="#1a9e1a"/><rect x="741" y="361" width="1" height="16" fill="#25c225"/><rect x="742" y="361" width="1" height="16" fill="#0a6e0a"/>
<rect x="745" y="364" width="1" height="28" fill="#7c0a0a"/><rect x="744" y="367" width="1" height="6" fill="#c41f1f"/><rect x="745" y="367" width="1" height="6" fill="#d22a2a"/><rect x="746" y="367" width="1" height="6" fill="#7e1212"/>
<rect x="749" y="361" width="1" height="29" fill="#056a05"/><rect x="748" y="373" width="1" height="2" fill="#1a9e1a"/><rect x="749" y="373" width="1" height="2" fill="#25c225"/><rect x="750" y="373" width="1" height="2" fill="#0a6e0a"/>
<rect x="753" y="368" width="1" height="33" fill="#7c0a0a"/><rect x="752" y="375" width="1" height="26" fill="#c41f1f"/><rect x="753" y="375" width="1" height="26" fill="#d22a2a"/><rect x="754" y="375" width="1" height="26" fill="#7e1212"/>
<rect x="757" y="407" width="1" height="20" fill="#7c0a0a"/><rect x="756" y="408" width="1" height="19" fill="#c41f1f"/><rect x="757" y="408" width="1" height="19" fill="#d22a2a"/><rect x="758" y="408" width="1" height="19" fill="#7e1212"/>
<rect x="761" y="380" width="1" height="32" fill="#056a05"/><rect x="760" y="386" width="1" height="26" fill="#1a9e1a"/><rect x="761" y="386" width="1" height="26" fill="#25c225"/><rect x="762" y="386" width="1" height="26" fill="#0a6e0a"/>
<rect x="765" y="376" width="1" height="17" fill="#7c0a0a"/><rect x="764" y="378" width="1" height="5" fill="#c41f1f"/><rect x="765" y="378" width="1" height="5" fill="#d22a2a"/><rect x="766" y="378" width="1" height="5" fill="#7e1212"/>
<rect x="769" y="383" width="1" height="27" fill="#7c0a0a"/><rect x="768" y="389" width="1" height="15" fill="#c41f1f"/><rect x="769" y="389" width="1" height="15" fill="#d22a2a"/><rect x="770" y="389" width="1" height="15" fill="#7e1212"/>
<rect x="773" y="391" width="1" height="21" fill="#056a05"/><rect x="772" y="391" width="1" height="11" fill="#1a9e1a"/><rect x="773" y="391" width="1" height="11" fill="#25c225"/><rect x="774" y="391" width="1" height="11" fill="#0a6e0a"/>
<rect x="777" y="387" width="1" height="12" fill="#7c0a0a"/><rect x="776" y="392" width="1" height="2" fill="#c41f1f"/><rect x="777" y="392" width="1" height="2" fill="#d22a2a"/><rect x="778" y="392" width="1" height="2" fill="#7e1212"/>
<rect x="781" y="371" width="1" height="15" fill="#056a05"/><rect x="780" y="372" width="1" height="11" fill="#1a9e1a"/><rect x="781" y="372" width="1" height="11" fill="#25c225"/><rect x="782" y="372" width="1" height="11" fill="#0a6e0a"/>
<rect x="785" y="366" width="1" height="11" fill="#056a05"/><rect x="784" y="368" width="1" height="3" fill="#1a9e1a"/><rect x="785" y="368" width="1" height="3" fill="#25c225"/><rect x="786" y="368" width="1" height="3" fill="#0a6e0a"/>
<rect x="789" y="350" width="1" height="16" fill="#056a05"/><rect x="788" y="352" width="1" height="11" fill="#1a9e1a"/><rect x="789" y="352" width="1" height="11" fill="#25c225"/><rect x="790" y="352" width="1" height="11" fill="#0a6e0a"/>
<rect x="793" y="341" width="1" height="14" fill="#056a05"/><rect x="792" y="345" width="1" height="8" fill="#1a9e1a"/><rect x="793" y="345" width="1" height="8" fill="#25c225"/><rect x="794" y="345" width="1" height="8" fill="#0a6e0a"/>
<rect x="797" y="327" width="1" height="26" fill="#056a05"/><rect x="796" y="328" width="1" height="24" fill="#1a9e1a"/><rect x="797" y="328" width="1" height="24" fill="#25c225"/><rect x="798" y="328" width="1" height="24" fill="#0a6e0a"/>
<rect x="801" y="318" width="1" height="15" fill="#056a05"/><rect x="800" y="323" width="1" height="8" fill="#1a9e1a"/><rect x="801" y="323" width="1" height="8" fill="#25c225"/><rect x="802" y="323" width="1" height="8" fill="#0a6e0a"/>
<rect x="805" y="309" width="1" height="13" fill="#056a05"/><rect x="804" y="313" width="1" height="5" fill="#1a9e1a"/><rect x="805" y="313" width="1" height="5" fill="#25c225"/><rect x="806" y="313" width="1" height="5" fill="#0a6e0a"/>
<rect x="809" y="307" width="1" height="11" fill="#056a05"/><rect x="808" y="308" width="1" height="5" fill="#1a9e1a"/><rect x="809" y="308" width="1" height="5" fill="#25c225"/><rect x="810" y="308" width="1" height="5" fill="#0a6e0a"/>
<rect x="813" y="296" width="1" height="19" fill="#056a05"/><rect x="812" y="298" width="1" height="14" fill="#1a9e1a"/><rect x="813" y="298" width="1" height="14" fill="#25c225"/><rect x="814" y="298" width="1" height="14" fill="#0a6e0a"/>
<rect x="817" y="295" width="1" height="21" fill="#056a05"/><rect x="816" y="297" width="1" height="2" fill="#1a9e1a"/><rect x="817" y="297" width="1" height="2" fill="#25c225"/><rect x="818" y="297" width="1" height="2" fill="#0a6e0a"/>
<rect x="821" y="278" width="1" height="23" fill="#056a05"/><rect x="820" y="279" width="1" height="19" fill="#1a9e1a"/><rect x="821" y="279" width="1" height="19" fill="#25c225"/><rect x="822" y="279" width="1" height="19" fill="#0a6e0a"/>
<rect x="825" y="269" width="1" height="12" fill="#056a05"/><rect x="824" y="275" width="1" height="4" fill="#1a9e1a"/><rect x="825" y="275" width="1" height="4" fill="#25c225"/><rect x="826" y="275" width="1" height="4" fill="#0a6e0a"/>
<rect x="829" y="258" width="1" height="15" fill="#056a05"/><rect x="828" y="268" width="1" height="2" fill="#1a9e1a"/><rect x="829" y="268" width="1" height="2" fill="#25c225"/><rect x="830" y="268" width="1" height="2" fill="#0a6e0a"/>
<rect x="833" y="258" width="1" height="18" fill="#056a05"/><rect x="832" y="266" width="1" height="4" fill="#1a9e1a"/><rect x="833" y="266" width="1" height="4" fill="#25c225"/><rect x="834" y="266" width="1" height="4" fill="#0a6e0a"/>
<rect x="837" y="269" width="1" height="18" fill="#7c0a0a"/><rect x="836" y="276" width="1" height="7" fill="#c41f1f"/><rect x="837" y="276" width="1" height="7" fill="#d22a2a"/><rect x="838" y="276" width="1" height="7" fill="#7e1212"/>
<rect x="841" y="273" width="1" height="21" fill="#7c0a0a"/><rect x="840" y="279" width="1" height="11" fill="#c41f1f"/><rect x="841" y="279" width="1" height="11" fill="#d22a2a"/><rect x="842" y="279" width="1" height="11" fill="#7e1212"/>
<rect x="845" y="270" width="1" height="32" fill="#056a05"/><rect x="844" y="272" width="1" height="25" fill="#1a9e1a"/><rect x="845" y="272" width="1" height="25" fill="#25c225"/><rect x="846" y="272" width="1" height="25" fill="#0a6e0a"/>
<rect x="849" y="268" width="1" height="31" fill="#7c0a0a"/><rect x="848" y="275" width="1" height="24" fill="#c41f1f"/><rect x="849" y="275" width="1" height="24" fill="#d22a2a"/><rect x="850" y="275" width="1" height="24" fill="#7e1212"/>
<rect x="853" y="295" width="1" height="18" fill="#7c0a0a"/><rect x="852" y="303" width="1" height="2" fill="#c41f1f"/><rect x="853" y="303" width="1" height="2" fill="#d22a2a"/><rect x="854" y="303" width="1" height="2" fill="#7e1212"/>
<rect x="857" y="304" width="1" height="38" fill="#7c0a0a"/><rect x="856" y="311" width="1" height="30" fill="#c41f1f"/><rect x="857" y="311" width="1" height="30" fill="#d22a2a"/><rect x="858" y="311" width="1" height="30" fill="#7e1212"/>
<rect x="861" y="319" width="1" height="22" fill="#056a05"/><rect x="860" y="328" width="1" height="12" fill="#1a9e1a"/><rect x="861" y="328" width="1" height="12" fill="#25c225"/><rect x="862" y="328" width="1" height="12" fill="#0a6e0a"/>
<rect x="865" y="317" width="1" height="29" fill="#7c0a0a"/><rect x="864" y="324" width="1" height="22" fill="#c41f1f"/><rect x="865" y="324" width="1" height="22" fill="#d22a2a"/><rect x="866" y="324" width="1" height="22" fill="#7e1212"/>
<rect x="869" y="317" width="1" height="33" fill="#056a05"/><rect x="868" y="320" width="1" height="27" fill="#1a9e1a"/><rect x="869" y="320" width="1" height="27" fill="#25c225"/><rect x="870" y="320" width="1" height="27" fill="#0a6e0a"/>
<rect x="873" y="314" width="1" height="19" fill="#7c0a0a"/><rect x="872" y="315" width="1" height="2" fill="#c41f1f"/><rect x="873" y="315" width="1" height="2" fill="#d22a2a"/><rect x="874" y="315" width="1" height="2" fill="#7e1212"/>
<rect x="877" y="301" width="1" height="21" fill="#056a05"/><rect x="876" y="304" width="1" height="13" fill="#1a9e1a"/><rect x="877" y="304" width="1" height="13" fill="#25c225"/><rect x="878" y="304" width="1" height="13" fill="#0a6e0a"/>
</g>
<g id="proj" fill="none">
<polyline points="869,350 961.3,120.3 995.4,166 1026.5,99.5 1056.4,163.6 1091,70" stroke="#3366ff" stroke-width="1.2" stroke-dasharray="4,2.2"/>
<polyline points="898.4,277.8 921.3,380.5" stroke="#b4aab4" stroke-width="1" stroke-dasharray="2.5,3.5"/>
</g>
<g id="target">
<line x1="921" y1="67.3" x2="1084" y2="67.3" stroke="#000" stroke-width="1.3"/>
<rect x="876.5" y="59.5" width="44" height="16" rx="3.5" ry="3.5" fill="#06d2ff" stroke="#000" stroke-width="1"/>
<text x="898.5" y="71.2" font-size="10.6" font-weight="bold" text-anchor="middle" fill="#000" stroke="#000" stroke-width="0.35">3523.00</text>
</g>
<g id="axes" shape-rendering="crispEdges">
<rect x="0" y="804" width="1151" height="1" fill="#a9b3a6"/>
<rect x="1150" y="0" width="1" height="805" fill="#a9b3a6"/>
<rect x="0" y="809" width="1157" height="1" fill="#000"/>
<rect x="1156" y="0" width="1" height="810" fill="#000"/>
<rect x="50" y="804" width="1" height="5" fill="#000"/><rect x="138" y="804" width="1" height="5" fill="#000"/><rect x="224" y="804" width="1" height="5" fill="#000"/><rect x="311" y="804" width="1" height="5" fill="#000"/><rect x="398" y="804" width="1" height="5" fill="#000"/><rect x="485" y="804" width="1" height="5" fill="#000"/><rect x="572" y="804" width="1" height="5" fill="#000"/><rect x="659" y="804" width="1" height="5" fill="#000"/><rect x="746" y="804" width="1" height="5" fill="#000"/><rect x="833" y="804" width="1" height="5" fill="#000"/><rect x="920" y="804" width="1" height="5" fill="#000"/><rect x="1008" y="804" width="1" height="5" fill="#000"/><rect x="1094" y="804" width="1" height="5" fill="#000"/>
<rect x="1150" y="8" width="6" height="1" fill="#000"/><rect x="1153" y="16" width="3" height="1" fill="#000"/><rect x="1153" y="24" width="3" height="1" fill="#000"/><rect x="1153" y="33" width="3" height="1" fill="#000"/><rect x="1153" y="41" width="3" height="1" fill="#000"/><rect x="1153" y="49" width="3" height="1" fill="#000"/><rect x="1153" y="57" width="3" height="1" fill="#000"/><rect x="1153" y="65" width="3" height="1" fill="#000"/><rect x="1150" y="74" width="6" height="1" fill="#000"/><rect x="1153" y="82" width="3" height="1" fill="#000"/><rect x="1153" y="90" width="3" height="1" fill="#000"/><rect x="1153" y="98" width="3" height="1" fill="#000"/><rect x="1153" y="106" width="3" height="1" fill="#000"/><rect x="1153" y="115" width="3" height="1" fill="#000"/><rect x="1153" y="123" width="3" height="1" fill="#000"/><rect x="1153" y="131" width="3" height="1" fill="#000"/><rect x="1150" y="139" width="6" height="1" fill="#000"/><rect x="1153" y="147" width="3" height="1" fill="#000"/><rect x="1153" y="156" width="3" height="1" fill="#000"/><rect x="1153" y="164" width="3" height="1" fill="#000"/><rect x="1153" y="172" width="3" height="1" fill="#000"/><rect x="1153" y="180" width="3" height="1" fill="#000"/><rect x="1153" y="188" width="3" height="1" fill="#000"/><rect x="1153" y="197" width="3" height="1" fill="#000"/><rect x="1150" y="205" width="6" height="1" fill="#000"/><rect x="1153" y="213" width="3" height="1" fill="#000"/><rect x="1153" y="221" width="3" height="1" fill="#000"/><rect x="1153" y="229" width="3" height="1" fill="#000"/><rect x="1153" y="237" width="3" height="1" fill="#000"/><rect x="1153" y="246" width="3" height="1" fill="#000"/><rect x="1153" y="254" width="3" height="1" fill="#000"/><rect x="1153" y="262" width="3" height="1" fill="#000"/><rect x="1150" y="270" width="6" height="1" fill="#000"/><rect x="1153" y="278" width="3" height="1" fill="#000"/><rect x="1153" y="287" width="3" height="1" fill="#000"/><rect x="1153" y="295" width="3" height="1" fill="#000"/><rect x="1153" y="303" width="3" height="1" fill="#000"/><rect x="1153" y="311" width="3" height="1" fill="#000"/><rect x="1153" y="319" width="3" height="1" fill="#000"/><rect x="1153" y="328" width="3" height="1" fill="#000"/><rect x="1150" y="336" width="6" height="1" fill="#000"/><rect x="1153" y="344" width="3" height="1" fill="#000"/><rect x="1153" y="352" width="3" height="1" fill="#000"/><rect x="1153" y="360" width="3" height="1" fill="#000"/><rect x="1153" y="369" width="3" height="1" fill="#000"/><rect x="1153" y="377" width="3" height="1" fill="#000"/><rect x="1153" y="385" width="3" height="1" fill="#000"/><rect x="1153" y="393" width="3" height="1" fill="#000"/><rect x="1150" y="401" width="6" height="1" fill="#000"/><rect x="1153" y="410" width="3" height="1" fill="#000"/><rect x="1153" y="418" width="3" height="1" fill="#000"/><rect x="1153" y="426" width="3" height="1" fill="#000"/><rect x="1153" y="434" width="3" height="1" fill="#000"/><rect x="1153" y="442" width="3" height="1" fill="#000"/><rect x="1153" y="451" width="3" height="1" fill="#000"/><rect x="1153" y="459" width="3" height="1" fill="#000"/><rect x="1150" y="467" width="6" height="1" fill="#000"/><rect x="1153" y="475" width="3" height="1" fill="#000"/><rect x="1153" y="483" width="3" height="1" fill="#000"/><rect x="1153" y="492" width="3" height="1" fill="#000"/><rect x="1153" y="500" width="3" height="1" fill="#000"/><rect x="1153" y="508" width="3" height="1" fill="#000"/><rect x="1153" y="516" width="3" height="1" fill="#000"/><rect x="1153" y="524" width="3" height="1" fill="#000"/><rect x="1150" y="533" width="6" height="1" fill="#000"/><rect x="1153" y="541" width="3" height="1" fill="#000"/><rect x="1153" y="549" width="3" height="1" fill="#000"/><rect x="1153" y="557" width="3" height="1" fill="#000"/><rect x="1153" y="565" width="3" height="1" fill="#000"/><rect x="1153" y="574" width="3" height="1" fill="#000"/><rect x="1153" y="582" width="3" height="1" fill="#000"/><rect x="1153" y="590" width="3" height="1" fill="#000"/><rect x="1150" y="598" width="6" height="1" fill="#000"/><rect x="1153" y="606" width="3" height="1" fill="#000"/><rect x="1153" y="615" width="3" height="1" fill="#000"/><rect x="1153" y="623" width="3" height="1" fill="#000"/><rect x="1153" y="631" width="3" height="1" fill="#000"/><rect x="1153" y="639" width="3" height="1" fill="#000"/><rect x="1153" y="647" width="3" height="1" fill="#000"/><rect x="1153" y="656" width="3" height="1" fill="#000"/><rect x="1150" y="664" width="6" height="1" fill="#000"/><rect x="1153" y="672" width="3" height="1" fill="#000"/><rect x="1153" y="680" width="3" height="1" fill="#000"/><rect x="1153" y="688" width="3" height="1" fill="#000"/><rect x="1153" y="696" width="3" height="1" fill="#000"/><rect x="1153" y="705" width="3" height="1" fill="#000"/><rect x="1153" y="713" width="3" height="1" fill="#000"/><rect x="1153" y="721" width="3" height="1" fill="#000"/><rect x="1150" y="729" width="6" height="1" fill="#000"/><rect x="1153" y="737" width="3" height="1" fill="#000"/><rect x="1153" y="746" width="3" height="1" fill="#000"/><rect x="1153" y="754" width="3" height="1" fill="#000"/><rect x="1153" y="762" width="3" height="1" fill="#000"/><rect x="1153" y="770" width="3" height="1" fill="#000"/><rect x="1153" y="778" width="3" height="1" fill="#000"/><rect x="1153" y="787" width="3" height="1" fill="#000"/><rect x="1150" y="795" width="6" height="1" fill="#000"/>
</g>
<g id="ylabels" font-size="12" fill="#000" letter-spacing="0.08">
<text x="1159.5" y="12.6">3750.00</text><text x="1159.5" y="78.2">3500.00</text><text x="1159.5" y="143.7">3250.00</text><text x="1159.5" y="209.3">3000.00</text><text x="1159.5" y="274.9">2750.00</text><text x="1159.5" y="340.4">2500.00</text><text x="1159.5" y="406.0">2250.00</text><text x="1159.5" y="471.6">2000.00</text><text x="1159.5" y="537.2">1750.00</text><text x="1159.5" y="602.7">1500.00</text><text x="1159.5" y="668.3">1250.00</text><text x="1159.5" y="733.9">1000.00</text><text x="1159.5" y="799.4">750.00</text>
</g>
<g id="xlabels" font-size="12" fill="#000" text-anchor="middle" letter-spacing="0.12">
<text x="50" y="822">Jul-2008</text><text x="138" y="822">Dec-2008</text><text x="224" y="822">May-2009</text><text x="311" y="822">Oct-2009</text><text x="398" y="822">Mar-2010</text><text x="485" y="822">Aug-2010</text><text x="572" y="822">Jan-2011</text><text x="659" y="822">Jun-2011</text><text x="746" y="822">Nov-2011</text><text x="833" y="822">Apr-2012</text><text x="920" y="822">Sep-2012</text><text x="1008" y="822">Feb-2013</text><text x="1094" y="822">Jul-2013</text>
</g>
<g id="ptag">
<polygon points="1151,301 1157,294.5 1206.5,294.5 1206.5,308 1157,308" fill="#f4fbff" stroke="#222" stroke-width="1"/>
<polygon points="1151,308.5 1157,302 1206.5,302 1206.5,315.5 1157,315.5" fill="#ffb4c4" stroke="#333" stroke-width="1"/>
<polygon points="1151,304.5 1157,297.5 1206.5,297.5 1206.5,311.5 1157,311.5" fill="#fff" stroke="#000" stroke-width="1.2"/>
<text x="1159.8" y="309" font-size="12" fill="#000">2620.83</text>
</g>
<g id="circles">
<g><circle cx="73.4" cy="460.7" r="8" fill="#fff" stroke="#585858" stroke-width="1"/><text x="73.4" y="465.7" font-size="14" font-weight="bold" text-anchor="middle" fill="#9a9d9a">2</text></g>
<g><circle cx="61.4" cy="535.8" r="8" fill="#fff" stroke="#585858" stroke-width="1"/><text x="61.4" y="540.8" font-size="14" font-weight="bold" text-anchor="middle" fill="#9a9d9a">1</text></g>
<g><circle cx="121.3" cy="615.8" r="8" fill="#fff" stroke="#585858" stroke-width="1"/><text x="121.3" y="620.8" font-size="14" font-weight="bold" text-anchor="middle" fill="#9a9d9a">4</text></g>
<g><circle cx="141.3" cy="649.8" r="8" fill="#fff" stroke="#585858" stroke-width="1"/><text x="141.3" y="654.8" font-size="14" font-weight="bold" text-anchor="middle" fill="#9a9d9a">1</text></g>
<g><circle cx="104.6" cy="689.7" r="8" fill="#fff" stroke="#585858" stroke-width="1"/><text x="104.6" y="694.7" font-size="14" font-weight="bold" text-anchor="middle" fill="#9a9d9a">3</text></g>
<g><circle cx="129.3" cy="735.5" r="8" fill="#fff" stroke="#585858" stroke-width="1"/><text x="129.3" y="740.5" font-size="14" font-weight="bold" text-anchor="middle" fill="#9a9d9a">5</text></g>
<g><circle cx="193.1" cy="747.7" r="8" fill="#fff" stroke="#585858" stroke-width="1"/><text x="193.1" y="752.7" font-size="14" font-weight="bold" text-anchor="middle" fill="#9a9d9a">2</text></g>
<g><circle cx="429.2" cy="420.7" r="8" fill="#fff" stroke="#585858" stroke-width="1"/><text x="429.2" y="425.7" font-size="14" font-weight="bold" text-anchor="middle" fill="#9a9d9a">3</text></g>
<g><circle cx="465.3" cy="557.7" r="8" fill="#fff" stroke="#585858" stroke-width="1"/><text x="465.3" y="562.7" font-size="14" font-weight="bold" text-anchor="middle" fill="#9a9d9a">4</text></g>
<g><circle cx="689.4" cy="321.4" r="8" fill="#fff" stroke="#585858" stroke-width="1"/><text x="689.4" y="326.4" font-size="14" font-weight="bold" text-anchor="middle" fill="#9a9d9a">5</text></g>
<g><circle cx="741.5" cy="345.5" r="8" fill="#fff" stroke="#585858" stroke-width="1"/><text x="741.5" y="350.5" font-size="14" font-weight="bold" text-anchor="middle" fill="#9a9d9a">1</text></g>
<g><circle cx="721.7" cy="364.8" r="8" fill="#fff" stroke="#585858" stroke-width="1"/><text x="721.7" y="369.8" font-size="14" font-weight="bold" text-anchor="middle" fill="#9a9d9a">B</text></g>
<g><circle cx="697.7" cy="469.3" r="8" fill="#fff" stroke="#585858" stroke-width="1"/><text x="697.7" y="474.3" font-size="14" font-weight="bold" text-anchor="middle" fill="#9a9d9a">A</text></g>
<g><circle cx="729.5" cy="467.5" r="8" fill="#fff" stroke="#585858" stroke-width="1"/><text x="729.5" y="472.5" font-size="14" font-weight="bold" text-anchor="middle" fill="#9a9d9a">C</text></g>
<g><circle cx="757.6" cy="438.4" r="8" fill="#fff" stroke="#585858" stroke-width="1"/><text x="757.6" y="443.4" font-size="14" font-weight="bold" text-anchor="middle" fill="#9a9d9a">2</text></g>
<g><circle cx="1026.5" cy="69.5" r="8" fill="#fff" stroke="#585858" stroke-width="1"/><text x="1026.5" y="74.5" font-size="14" font-weight="bold" text-anchor="middle" fill="#9a9d9a">3</text></g>
<g><circle cx="1091.5" cy="55.5" r="8" fill="#fff" stroke="#585858" stroke-width="1"/><text x="1091.5" y="60.5" font-size="14" font-weight="bold" text-anchor="middle" fill="#9a9d9a">5</text></g>
<g><circle cx="1056.4" cy="174.8" r="8" fill="#fff" stroke="#585858" stroke-width="1"/><text x="1056.4" y="179.8" font-size="14" font-weight="bold" text-anchor="middle" fill="#9a9d9a">4</text></g>
</g>
<g id="blue" font-size="13.33" font-weight="bold" fill="#0000ff" text-anchor="middle">
<text x="177.2" y="645.2">(B)</text><text x="165.7" y="709.0">(A)</text><text x="192.9" y="734.8">(C)</text><text x="225" y="606.1">(1)</text><text x="229" y="656.3">(2)</text><text x="429" y="442.5">(5)</text><text x="369.2" y="485.5">(3)</text><text x="381.1" y="558.2">(4)</text><text x="488.8" y="479.5">(1)</text><text x="496.9" y="549.5">(2)</text><text x="597.2" y="352.4">(3)</text><text x="689" y="343.6">(5)</text><text x="665.1" y="450.1">(4)</text><text x="833" y="234.3">(1)</text><text x="869.1" y="366.1">(2)</text><text x="961" y="111.7">(3)</text><text x="995" y="182.3">(4)</text><text x="1026.2" y="91.8">(5)</text>
</g>
<g id="mag" font-size="13.33" fill="#ff20ee" stroke="#ff20ee" stroke-width="0.35" text-anchor="middle">
<text x="641.7" y="349.6">B</text><text x="613.7" y="432.9">A</text><text x="666" y="434.2">C</text>
</g>
<g id="magd" font-size="13" font-weight="bold" fill="#ff2cea" text-anchor="middle">
<text x="765.3" y="369.5">1</text><text x="773.2" y="427.6">2</text><text x="813.2" y="289.0">3</text><text x="816.8" y="331.4">4</text><text x="832" y="250.5">5</text>
</g>
<g id="black" font-size="19.5" font-weight="bold" fill="#000" text-anchor="middle">
<text x="33.1" y="443.2">b</text><text x="129.3" y="764.8">c</text><text x="689.8" y="309">a</text><text x="728.8" y="495.7">b</text><text x="1091.5" y="43">c</text>
</g>
<g id="red" font-size="21" font-weight="bold" fill="#ff0000" text-anchor="middle">
<text x="1091.6" y="18.5">(y)</text><text x="129" y="789.3">(x)</text><text x="1128" y="361.5">(x)</text>
</g>
<text x="902.5" y="400" font-size="17" letter-spacing="0.1" fill="#2f62ff" stroke="#2f62ff" stroke-width="0.55">Alt:2</text>
<g id="logo">
<defs><filter id="sh" x="-10%" y="-10%" width="120%" height="130%"><feGaussianBlur stdDeviation="1.6"/></filter>
<linearGradient id="fg" x1="0" y1="0" x2="1" y2="0"><stop offset="0" stop-color="#1c1c82"/><stop offset="0.5" stop-color="#212192"/><stop offset="1" stop-color="#1a1a7c"/></linearGradient></defs>
<path d="M52.3,114.5 C60,104 72,92 84.7,85.2 C98,78 120,71 141.6,69.3 L149.4,80.7 C160,80 180,74 196.3,62.9 L206.4,55.7 L218.7,78.5 L232,105.3 L240,121 L240,150 L226,162 L150.2,161.6 C140,164 125,169 115,174.2 C106,179 98,185 92,192 L69.2,149.4 Z" fill="#6a6a6a" opacity="0.75" transform="translate(-1.2,1.8)" filter="url(#sh)"/>
<path d="M52.3,114.5 C60,104 72,92 84.7,85.2 C98,78 120,71 141.6,69.3 L149.4,80.7 C160,80 180,74 196.3,62.9 L206.4,55.7 L218.7,78.5 L232,105.3 L240,121 L240,150 L226,162 L150.2,161.6 C140,164 125,169 115,174.2 C106,179 98,185 92,192 L69.2,149.4 Z" fill="url(#fg)" stroke="#5a5a70" stroke-width="1"/>
<path d="M141.6,69.3 L149.4,80.7 L176,140 L166,140 L138,76 Z" fill="#3a3acc" opacity="0.75"/>
<path d="M141.6,69.5 L149.4,80.7 C160,80 180,74 196.3,62.9 L206.4,55.7 L214,70 C195,85 170,92 152,92 Z" fill="#2a2aa8" opacity="0.6"/>
<polygon points="128.9,93.8 129.7,95.9 131.9,96.0 130.2,97.4 130.8,99.6 128.9,98.3 127.0,99.6 127.6,97.4 125.9,96.0 128.1,95.9" fill="#f7b500"/><polygon points="139.8,87.1 140.6,89.2 142.8,89.3 141.1,90.7 141.7,92.9 139.8,91.6 137.9,92.9 138.5,90.7 136.8,89.3 139.0,89.2" fill="#f7b500"/><polygon points="154.6,87.1 155.4,89.2 157.6,89.3 155.9,90.7 156.5,92.9 154.6,91.6 152.7,92.9 153.3,90.7 151.6,89.3 153.8,89.2" fill="#f7b500"/><polygon points="166.2,93.8 167.0,95.9 169.2,96.0 167.5,97.4 168.1,99.6 166.2,98.3 164.3,99.6 164.9,97.4 163.2,96.0 165.4,95.9" fill="#f7b500"/><polygon points="173.3,105.9 174.1,108.0 176.3,108.1 174.6,109.5 175.2,111.7 173.3,110.4 171.4,111.7 172.0,109.5 170.3,108.1 172.5,108.0" fill="#f7b500"/><polygon points="171.8,118.8 172.6,120.9 174.8,121.0 173.1,122.4 173.7,124.6 171.8,123.3 169.9,124.6 170.5,122.4 168.8,121.0 171.0,120.9" fill="#f7b500"/><polygon points="165.7,131.8 166.5,133.9 168.7,134.0 167.0,135.4 167.6,137.6 165.7,136.3 163.8,137.6 164.4,135.4 162.7,134.0 164.9,133.9" fill="#f7b500"/><polygon points="122.2,105.9 123.0,108.0 125.2,108.1 123.5,109.5 124.1,111.7 122.2,110.4 120.3,111.7 120.9,109.5 119.2,108.1 121.4,108.0" fill="#f7b500"/>
<path d="M105.9,154.8 A11.0,11.0 0 1 0 127.9,154.8 A11.0,11.0 0 1 0 105.9,154.8 Z M127.9,144.8 V165.6 M133.5,165.6 V154.6 A10.85,10.85 0 0 1 155.2,154.6 V165.6 M159.2,154.8 A11.0,11.0 0 1 0 181.2,154.8 A11.0,11.0 0 1 0 159.2,154.8 Z M181.2,144.8 V165.6 M185.6,130.8 V165.6 M195.4,143.8 V154.3 A11.2,11.2 0 0 0 217.8,154.3 M217.8,143.8 V178.5 A11,11 0 0 1 196.17,181.35 M221.9,154.8 A11.0,11.0 0 1 0 243.9,154.8 A11.0,11.0 0 1 0 221.9,154.8 Z M222.5,151.3 L243.3,158.3 M247.89999999999998,154.8 H269.9 A11.0,11.0 0 1 0 258.9,165.8 H271.4 M274.6,165.6 V153.9 A10.2,10.2 0 0 1 295,153.9 V165.6" fill="none" stroke="#555" stroke-width="9.5" stroke-linecap="round" stroke-linejoin="round" opacity="0.55" transform="translate(1.5,3)" filter="url(#sh)"/>
<path d="M55.35,129.8 H72.65 A8.65,8.65 0 1 0 64,138.45000000000002 H74.15 M77.2,110.8 V137.8 M85,110.8 V137.8 M94.5,110.8 V113.6 M94.5,122.4 V137.8 M97.55,129.8 A8.65,8.65 0 1 0 114.85000000000001,129.8 A8.65,8.65 0 1 0 97.55,129.8 Z M118,110.8 V129.2 A9.8,9.3 0 0 0 137.6,129.2 M110.5,121 H127 M137.6,110.8 V129.2 A9.4,9.3 0 0 0 156.4,129.6 M133.5,121 H146.5 M176.3,121.6 V129.8 A9.15,9.15 0 0 0 194.6,129.8 V121.6 M194.6,129.8 A9.15,9.15 0 0 0 212.9,129.8 V124 M217.25,129.5 H234.55 A8.65,8.65 0 1 0 225.9,138.15 H236.05 M237.1,110.8 V137.8 M245.1,110.8 V137.8 M254.54999999999998,129.5 H271.84999999999997 A8.65,8.65 0 1 0 263.2,138.15 H273.34999999999997 M275.9,137.8 V128.6 A7.95,7.95 0 0 1 291.8,128.6 V137.8" fill="none" stroke="#3a3000" stroke-width="9" stroke-linecap="round" stroke-linejoin="round" opacity="0.35" transform="translate(1,1.5)" filter="url(#sh)"/>
<path d="M55.35,129.8 H72.65 A8.65,8.65 0 1 0 64,138.45000000000002 H74.15 M77.2,110.8 V137.8 M85,110.8 V137.8 M94.5,110.8 V113.6 M94.5,122.4 V137.8 M97.55,129.8 A8.65,8.65 0 1 0 114.85000000000001,129.8 A8.65,8.65 0 1 0 97.55,129.8 Z M118,110.8 V129.2 A9.8,9.3 0 0 0 137.6,129.2 M110.5,121 H127 M137.6,110.8 V129.2 A9.4,9.3 0 0 0 156.4,129.6 M133.5,121 H146.5 M176.3,121.6 V129.8 A9.15,9.15 0 0 0 194.6,129.8 V121.6 M194.6,129.8 A9.15,9.15 0 0 0 212.9,129.8 V124 M217.25,129.5 H234.55 A8.65,8.65 0 1 0 225.9,138.15 H236.05 M237.1,110.8 V137.8 M245.1,110.8 V137.8 M254.54999999999998,129.5 H271.84999999999997 A8.65,8.65 0 1 0 263.2,138.15 H273.34999999999997 M275.9,137.8 V128.6 A7.95,7.95 0 0 1 291.8,128.6 V137.8" fill="none" stroke="#6e5a00" stroke-width="8" stroke-linecap="round" stroke-linejoin="round" transform="translate(1.3,1.2)"/>
<path d="M55.35,129.8 H72.65 A8.65,8.65 0 1 0 64,138.45000000000002 H74.15 M77.2,110.8 V137.8 M85,110.8 V137.8 M94.5,110.8 V113.6 M94.5,122.4 V137.8 M97.55,129.8 A8.65,8.65 0 1 0 114.85000000000001,129.8 A8.65,8.65 0 1 0 97.55,129.8 Z M118,110.8 V129.2 A9.8,9.3 0 0 0 137.6,129.2 M110.5,121 H127 M137.6,110.8 V129.2 A9.4,9.3 0 0 0 156.4,129.6 M133.5,121 H146.5 M176.3,121.6 V129.8 A9.15,9.15 0 0 0 194.6,129.8 V121.6 M194.6,129.8 A9.15,9.15 0 0 0 212.9,129.8 V124 M217.25,129.5 H234.55 A8.65,8.65 0 1 0 225.9,138.15 H236.05 M237.1,110.8 V137.8 M245.1,110.8 V137.8 M254.54999999999998,129.5 H271.84999999999997 A8.65,8.65 0 1 0 263.2,138.15 H273.34999999999997 M275.9,137.8 V128.6 A7.95,7.95 0 0 1 291.8,128.6 V137.8" fill="none" stroke="#7d6700" stroke-width="8" stroke-linecap="round" stroke-linejoin="round"/>
<path d="M55.35,129.8 H72.65 A8.65,8.65 0 1 0 64,138.45000000000002 H74.15 M77.2,110.8 V137.8 M85,110.8 V137.8 M94.5,110.8 V113.6 M94.5,122.4 V137.8 M97.55,129.8 A8.65,8.65 0 1 0 114.85000000000001,129.8 A8.65,8.65 0 1 0 97.55,129.8 Z M118,110.8 V129.2 A9.8,9.3 0 0 0 137.6,129.2 M110.5,121 H127 M137.6,110.8 V129.2 A9.4,9.3 0 0 0 156.4,129.6 M133.5,121 H146.5 M176.3,121.6 V129.8 A9.15,9.15 0 0 0 194.6,129.8 V121.6 M194.6,129.8 A9.15,9.15 0 0 0 212.9,129.8 V124 M217.25,129.5 H234.55 A8.65,8.65 0 1 0 225.9,138.15 H236.05 M237.1,110.8 V137.8 M245.1,110.8 V137.8 M254.54999999999998,129.5 H271.84999999999997 A8.65,8.65 0 1 0 263.2,138.15 H273.34999999999997 M275.9,137.8 V128.6 A7.95,7.95 0 0 1 291.8,128.6 V137.8" fill="none" stroke="#ffe23c" stroke-width="5.4" stroke-linecap="round" stroke-linejoin="round"/>
<path d="M55.35,129.8 H72.65 A8.65,8.65 0 1 0 64,138.45000000000002 H74.15 M77.2,110.8 V137.8 M85,110.8 V137.8 M94.5,110.8 V113.6 M94.5,122.4 V137.8 M97.55,129.8 A8.65,8.65 0 1 0 114.85000000000001,129.8 A8.65,8.65 0 1 0 97.55,129.8 Z M118,110.8 V129.2 A9.8,9.3 0 0 0 137.6,129.2 M110.5,121 H127 M137.6,110.8 V129.2 A9.4,9.3 0 0 0 156.4,129.6 M133.5,121 H146.5 M176.3,121.6 V129.8 A9.15,9.15 0 0 0 194.6,129.8 V121.6 M194.6,129.8 A9.15,9.15 0 0 0 212.9,129.8 V124 M217.25,129.5 H234.55 A8.65,8.65 0 1 0 225.9,138.15 H236.05 M237.1,110.8 V137.8 M245.1,110.8 V137.8 M254.54999999999998,129.5 H271.84999999999997 A8.65,8.65 0 1 0 263.2,138.15 H273.34999999999997 M275.9,137.8 V128.6 A7.95,7.95 0 0 1 291.8,128.6 V137.8" fill="none" stroke="#fff2a4" stroke-width="3" stroke-linecap="round" stroke-linejoin="round" transform="translate(-0.3,-0.3)"/>
<path d="M105.9,154.8 A11.0,11.0 0 1 0 127.9,154.8 A11.0,11.0 0 1 0 105.9,154.8 Z M127.9,144.8 V165.6 M133.5,165.6 V154.6 A10.85,10.85 0 0 1 155.2,154.6 V165.6 M159.2,154.8 A11.0,11.0 0 1 0 181.2,154.8 A11.0,11.0 0 1 0 159.2,154.8 Z M181.2,144.8 V165.6 M185.6,130.8 V165.6 M195.4,143.8 V154.3 A11.2,11.2 0 0 0 217.8,154.3 M217.8,143.8 V178.5 A11,11 0 0 1 196.17,181.35 M221.9,154.8 A11.0,11.0 0 1 0 243.9,154.8 A11.0,11.0 0 1 0 221.9,154.8 Z M222.5,151.3 L243.3,158.3 M247.89999999999998,154.8 H269.9 A11.0,11.0 0 1 0 258.9,165.8 H271.4 M274.6,165.6 V153.9 A10.2,10.2 0 0 1 295,153.9 V165.6" fill="none" stroke="#0a5f90" stroke-width="9" stroke-linecap="round" stroke-linejoin="round" transform="translate(1,1)"/>
<path d="M105.9,154.8 A11.0,11.0 0 1 0 127.9,154.8 A11.0,11.0 0 1 0 105.9,154.8 Z M127.9,144.8 V165.6 M133.5,165.6 V154.6 A10.85,10.85 0 0 1 155.2,154.6 V165.6 M159.2,154.8 A11.0,11.0 0 1 0 181.2,154.8 A11.0,11.0 0 1 0 159.2,154.8 Z M181.2,144.8 V165.6 M185.6,130.8 V165.6 M195.4,143.8 V154.3 A11.2,11.2 0 0 0 217.8,154.3 M217.8,143.8 V178.5 A11,11 0 0 1 196.17,181.35 M221.9,154.8 A11.0,11.0 0 1 0 243.9,154.8 A11.0,11.0 0 1 0 221.9,154.8 Z M222.5,151.3 L243.3,158.3 M247.89999999999998,154.8 H269.9 A11.0,11.0 0 1 0 258.9,165.8 H271.4 M274.6,165.6 V153.9 A10.2,10.2 0 0 1 295,153.9 V165.6" fill="none" stroke="#0a6a9c" stroke-width="9" stroke-linecap="round" stroke-linejoin="round"/>
<path d="M105.9,154.8 A11.0,11.0 0 1 0 127.9,154.8 A11.0,11.0 0 1 0 105.9,154.8 Z M127.9,144.8 V165.6 M133.5,165.6 V154.6 A10.85,10.85 0 0 1 155.2,154.6 V165.6 M159.2,154.8 A11.0,11.0 0 1 0 181.2,154.8 A11.0,11.0 0 1 0 159.2,154.8 Z M181.2,144.8 V165.6 M185.6,130.8 V165.6 M195.4,143.8 V154.3 A11.2,11.2 0 0 0 217.8,154.3 M217.8,143.8 V178.5 A11,11 0 0 1 196.17,181.35 M221.9,154.8 A11.0,11.0 0 1 0 243.9,154.8 A11.0,11.0 0 1 0 221.9,154.8 Z M222.5,151.3 L243.3,158.3 M247.89999999999998,154.8 H269.9 A11.0,11.0 0 1 0 258.9,165.8 H271.4 M274.6,165.6 V153.9 A10.2,10.2 0 0 1 295,153.9 V165.6" fill="none" stroke="#52b6e4" stroke-width="6.3" stroke-linecap="round" stroke-linejoin="round"/>
<path d="M105.9,154.8 A11.0,11.0 0 1 0 127.9,154.8 A11.0,11.0 0 1 0 105.9,154.8 Z M127.9,144.8 V165.6 M133.5,165.6 V154.6 A10.85,10.85 0 0 1 155.2,154.6 V165.6 M159.2,154.8 A11.0,11.0 0 1 0 181.2,154.8 A11.0,11.0 0 1 0 159.2,154.8 Z M181.2,144.8 V165.6 M185.6,130.8 V165.6 M195.4,143.8 V154.3 A11.2,11.2 0 0 0 217.8,154.3 M217.8,143.8 V178.5 A11,11 0 0 1 196.17,181.35 M221.9,154.8 A11.0,11.0 0 1 0 243.9,154.8 A11.0,11.0 0 1 0 221.9,154.8 Z M222.5,151.3 L243.3,158.3 M247.89999999999998,154.8 H269.9 A11.0,11.0 0 1 0 258.9,165.8 H271.4 M274.6,165.6 V153.9 A10.2,10.2 0 0 1 295,153.9 V165.6" fill="none" stroke="#9ad6f2" stroke-width="2.2" stroke-linecap="round" stroke-linejoin="round" opacity="0.85" transform="translate(-0.6,-0.6)"/>
</g>
</svg>
</body></html>
